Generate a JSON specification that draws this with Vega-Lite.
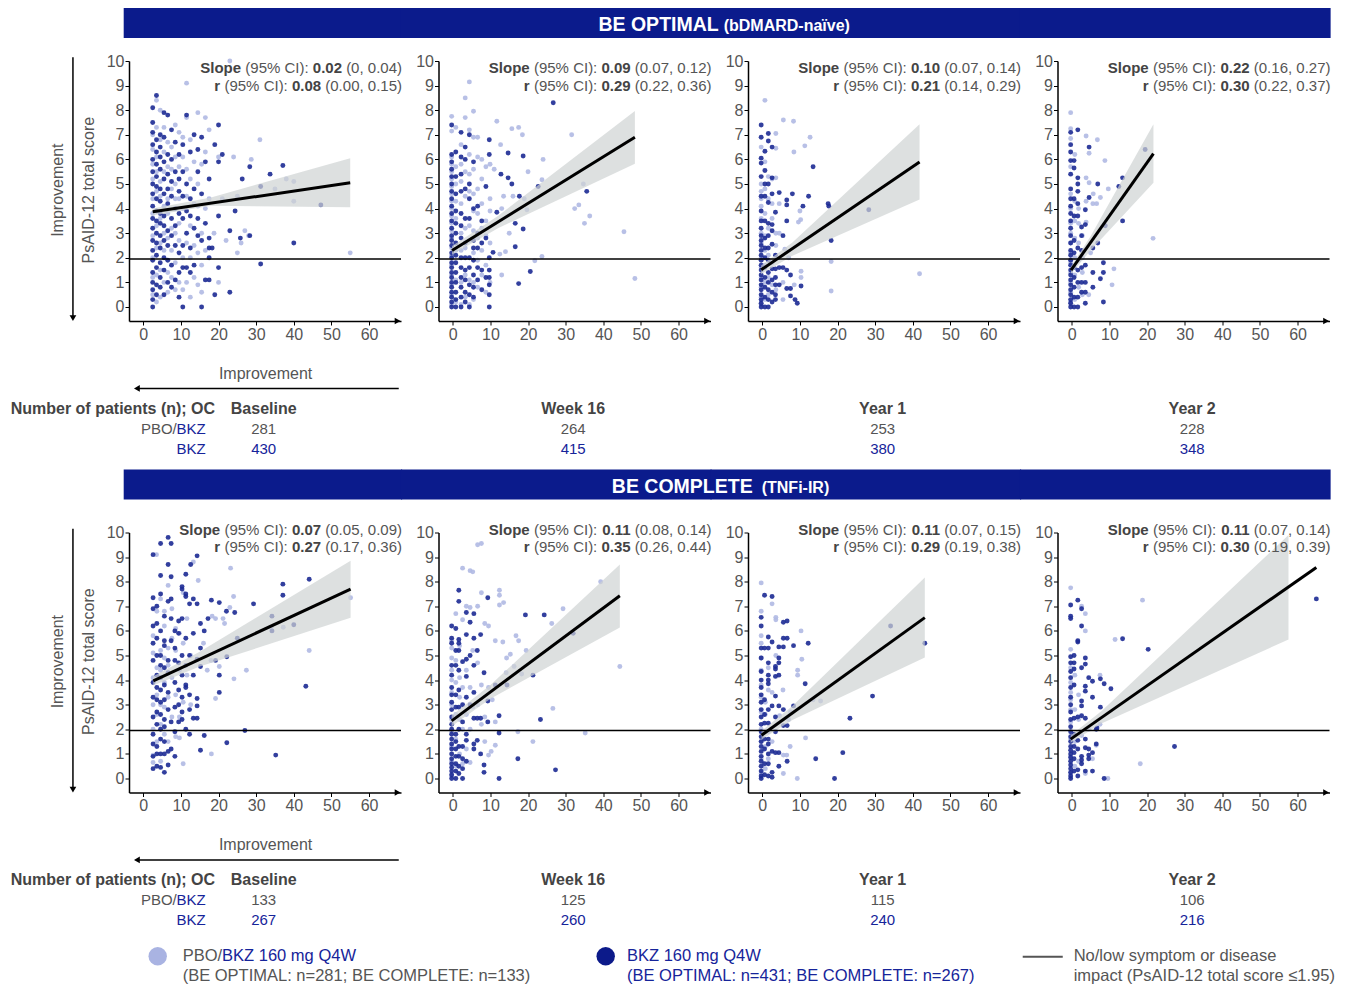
{
"$schema":"https://vega.github.io/schema/vega-lite/v6.json",
"padding":{"left":10,"top":8,"right":0,"bottom":0},
"background":"white",
"config":{"font":"Liberation Sans","view":{"stroke":null},
"header":{"labels":false,"title":null,"labelExpr":"''","labelFontSize":1,"labelPadding":-60,"labelColor":"transparent"},
"headerFacet":{"labels":false,"title":null,"labelExpr":"''","labelFontSize":1,"labelPadding":-60,"labelColor":"transparent"},
"axis":{"domainColor":"black","domainWidth":1.5,"tickColor":"black","tickSize":4,"labelFontSize":16,"labelColor":"#555","labelPadding":1,"labelFlush":false,"labelOverlap":false,"titleFontSize":16,"titleColor":"#555","titleFontWeight":"normal","grid":false}},
"datasets":{
"d":[
{"k":"ln","p":1,"x":2.5,"y":3.87},{"k":"ln","p":1,"x":55,"y":5.05},
{"k":"ln","p":2,"x":-0.2,"y":2.3},{"k":"ln","p":2,"x":48.4,"y":6.9},
{"k":"ln","p":3,"x":-0.3,"y":1.51},{"k":"ln","p":3,"x":41.8,"y":5.89},
{"k":"ln","p":4,"x":-0.2,"y":1.5},{"k":"ln","p":4,"x":21.7,"y":6.23},
{"k":"ln","p":5,"x":2.66,"y":3.97},{"k":"ln","p":5,"x":55.1,"y":7.7},
{"k":"ln","p":6,"x":-0.3,"y":2.34},{"k":"ln","p":6,"x":44.4,"y":7.43},
{"k":"ln","p":7,"x":-0.2,"y":1.76},{"k":"ln","p":7,"x":43.2,"y":6.54},
{"k":"ln","p":8,"x":-0.3,"y":1.6},{"k":"ln","p":8,"x":65,"y":8.58},
{"k":"bd","p":1,"x":2.5,"lo":3.72,"hi":4.0},{"k":"bd","p":1,"x":18,"lo":4.12,"hi":4.45},{"k":"bd","p":1,"x":55,"lo":4.05,"hi":6.05},
{"k":"bd","p":2,"x":-0.2,"lo":2.12,"hi":2.48},{"k":"bd","p":2,"x":12,"lo":3.2,"hi":3.7},{"k":"bd","p":2,"x":48.4,"lo":5.82,"hi":7.97},
{"k":"bd","p":3,"x":-0.3,"lo":1.33,"hi":1.69},{"k":"bd","p":3,"x":8,"lo":2.08,"hi":2.62},{"k":"bd","p":3,"x":41.8,"lo":4.37,"hi":7.43},
{"k":"bd","p":4,"x":-0.2,"lo":1.35,"hi":1.65},{"k":"bd","p":4,"x":5,"lo":2.3,"hi":2.88},{"k":"bd","p":4,"x":21.7,"lo":5.05,"hi":7.43},
{"k":"bd","p":5,"x":2.66,"lo":3.78,"hi":4.16},{"k":"bd","p":5,"x":15,"lo":4.55,"hi":5.15},{"k":"bd","p":5,"x":55.1,"lo":6.53,"hi":8.85},
{"k":"bd","p":6,"x":-0.3,"lo":2.12,"hi":2.56},{"k":"bd","p":6,"x":10,"lo":3.24,"hi":3.8},{"k":"bd","p":6,"x":44.4,"lo":6.14,"hi":8.7},
{"k":"bd","p":7,"x":-0.2,"lo":1.58,"hi":1.94},{"k":"bd","p":7,"x":8,"lo":2.38,"hi":2.95},{"k":"bd","p":7,"x":43.2,"lo":4.92,"hi":8.17},
{"k":"bd","p":8,"x":-0.3,"lo":1.45,"hi":1.75},{"k":"bd","p":8,"x":8,"lo":2.25,"hi":2.75},{"k":"bd","p":8,"x":57.6,"lo":5.65,"hi":9.9},
{"k":"an","p":1,"n1":"0.02","n2":"0.08","ci":["(0, 0.04)","(0.00, 0.15)"]},
{"k":"an","p":2,"nm":["0.09","0.29"],"ci":["(0.07, 0.12)","(0.22, 0.36)"]},
{"k":"an","p":3,"nm":["0.10","0.21"],"ci":["(0.07, 0.14)","(0.14, 0.29)"]},
{"k":"an","p":4,"nm":["0.22","0.30"],"ci":["(0.16, 0.27)","(0.22, 0.37)"]},
{"k":"an","p":5,"nm":["0.07","0.27"],"ci":["(0.05, 0.09)","(0.17, 0.36)"]},
{"k":"an","p":6,"nm":["0.11","0.35"],"ci":["(0.08, 0.14)","(0.26, 0.44)"]},
{"k":"an","p":7,"nm":["0.11","0.29"],"ci":["(0.07, 0.15)","(0.19, 0.38)"]},
{"k":"an","p":8,"nm":["0.11","0.30"],"ci":["(0.07, 0.14)","(0.19, 0.39)"]},
{"k":"tb","p":1,"t":"Baseline","a":281,"b":430},{"k":"tb","p":2,"t":"Week 16","a":264,"b":415},{"k":"tb","p":3,"t":"Year 1","a":253,"b":380},{"k":"tb","p":4,"t":"Year 2","a":228,"b":348},
{"k":"tb","p":5,"t":"Baseline","a":133,"b":267},{"k":"tb","p":6,"t":"Week 16","a":125,"b":260},{"k":"tb","p":7,"t":"Year 1","a":115,"b":240},{"k":"tb","p":8,"t":"Year 2","a":106,"b":216},
{"p":1,"g":"a","x":2.5,"y":0.5},{"p":1,"g":"a","x":2.5,"y":1.2},{"p":1,"g":"a","x":2.5,"y":2},{"p":1,"g":"a","x":2.5,"y":2.9},{"p":1,"g":"a","x":2.5,"y":3.8},{"p":1,"g":"a","x":2.5,"y":4.4},{"p":1,"g":"a","x":2.5,"y":5.2},{"p":1,"g":"a","x":2.5,"y":5.8},{"p":1,"g":"a","x":2.5,"y":6.4},{"p":1,"g":"a","x":2.5,"y":7},
{"p":1,"g":"a","x":3.5,"y":0.2},{"p":1,"g":"a","x":3.5,"y":1.3},{"p":1,"g":"a","x":3.5,"y":2.4},{"p":1,"g":"a","x":3.5,"y":3.3},{"p":1,"g":"a","x":3.5,"y":4.7},{"p":1,"g":"a","x":3.5,"y":5.5},{"p":1,"g":"a","x":3.5,"y":6.1},{"p":1,"g":"a","x":3.5,"y":7.3},{"p":1,"g":"a","x":3.5,"y":8.4},
{"p":1,"g":"a","x":4.5,"y":0.4},{"p":1,"g":"a","x":4.5,"y":1.5},{"p":1,"g":"a","x":4.5,"y":2.6},{"p":1,"g":"a","x":4.5,"y":3.6},{"p":1,"g":"a","x":4.5,"y":4.5},{"p":1,"g":"a","x":4.5,"y":5.1},{"p":1,"g":"a","x":4.5,"y":6.8},{"p":1,"g":"a","x":4.5,"y":8},
{"p":1,"g":"a","x":5.5,"y":1},{"p":1,"g":"a","x":5.5,"y":2.3},{"p":1,"g":"a","x":5.5,"y":3},{"p":1,"g":"a","x":5.5,"y":4.1},{"p":1,"g":"a","x":5.5,"y":5.5},{"p":1,"g":"a","x":5.5,"y":6.3},{"p":1,"g":"a","x":5.5,"y":7.3},
{"p":1,"g":"a","x":6.5,"y":0.6},{"p":1,"g":"a","x":6.5,"y":1.4},{"p":1,"g":"a","x":6.5,"y":2.8},{"p":1,"g":"a","x":6.5,"y":3.8},{"p":1,"g":"a","x":6.5,"y":4.4},{"p":1,"g":"a","x":6.5,"y":5.7},{"p":1,"g":"a","x":6.5,"y":6.7},
{"p":1,"g":"a","x":7.5,"y":1.2},{"p":1,"g":"a","x":7.5,"y":2.3},{"p":1,"g":"a","x":7.5,"y":3.2},{"p":1,"g":"a","x":7.5,"y":4.8},{"p":1,"g":"a","x":7.5,"y":5.6},{"p":1,"g":"a","x":7.5,"y":6.5},
{"p":1,"g":"a","x":8.5,"y":0.7},{"p":1,"g":"a","x":8.5,"y":1.8},{"p":1,"g":"a","x":8.5,"y":3},{"p":1,"g":"a","x":8.5,"y":4.4},{"p":1,"g":"a","x":8.5,"y":5},{"p":1,"g":"a","x":8.5,"y":6.1},{"p":1,"g":"a","x":8.5,"y":7.4},
{"p":1,"g":"a","x":9.5,"y":1},{"p":1,"g":"a","x":9.5,"y":2.7},{"p":1,"g":"a","x":9.5,"y":3.4},{"p":1,"g":"a","x":9.5,"y":4.4},{"p":1,"g":"a","x":9.5,"y":5.7},{"p":1,"g":"a","x":9.5,"y":7.1},
{"p":1,"g":"a","x":10.5,"y":0.7},{"p":1,"g":"a","x":10.5,"y":2},{"p":1,"g":"a","x":10.5,"y":4},{"p":1,"g":"a","x":10.5,"y":6.1},{"p":1,"g":"a","x":10.5,"y":6.9},
{"p":1,"g":"a","x":11.5,"y":1},{"p":1,"g":"a","x":11.5,"y":2.6},{"p":1,"g":"a","x":11.5,"y":4.5},{"p":1,"g":"a","x":11.5,"y":5.6},{"p":1,"g":"a","x":11.5,"y":7.7},{"p":1,"g":"a","x":11.5,"y":9.1},
{"p":1,"g":"a","x":12.5,"y":0.4},{"p":1,"g":"a","x":12.5,"y":2},{"p":1,"g":"a","x":12.5,"y":3.3},{"p":1,"g":"a","x":12.5,"y":5.2},{"p":1,"g":"a","x":12.5,"y":6.8},
{"p":1,"g":"a","x":13.5,"y":1.2},{"p":1,"g":"a","x":13.5,"y":2.5},{"p":1,"g":"a","x":13.5,"y":4.2},{"p":1,"g":"a","x":13.5,"y":5.9},
{"p":1,"g":"a","x":14.5,"y":0.9},{"p":1,"g":"a","x":14.5,"y":2.2},{"p":1,"g":"a","x":14.5,"y":4.1},{"p":1,"g":"a","x":14.5,"y":5},{"p":1,"g":"a","x":14.5,"y":7.9},
{"p":1,"g":"a","x":15.5,"y":0.6},{"p":1,"g":"a","x":15.5,"y":1.7},{"p":1,"g":"a","x":15.5,"y":3},{"p":1,"g":"a","x":15.5,"y":5.8},
{"p":1,"g":"a","x":16.5,"y":2.3},{"p":1,"g":"a","x":16.5,"y":4},{"p":1,"g":"a","x":16.5,"y":6.3},{"p":1,"g":"a","x":16.5,"y":7.7},
{"p":1,"g":"a","x":17.5,"y":7.2},{"p":1,"g":"a","x":17.5,"y":4.4},
{"p":1,"g":"a","x":23,"y":10},{"p":1,"g":"a","x":20,"y":1},{"p":1,"g":"a","x":18.8,"y":3},{"p":1,"g":"a","x":21,"y":4.4},{"p":1,"g":"a","x":22,"y":2.7},{"p":1,"g":"a","x":24,"y":6.1},{"p":1,"g":"a","x":25,"y":4.5},{"p":1,"g":"a","x":25,"y":2.2},{"p":1,"g":"a","x":26,"y":2.6},{"p":1,"g":"a","x":27,"y":3.1},{"p":1,"g":"a","x":28,"y":2.9},{"p":1,"g":"a","x":28.7,"y":6},{"p":1,"g":"a","x":31,"y":6.8},{"p":1,"g":"a","x":38,"y":5.2},{"p":1,"g":"a","x":40,"y":4.3},{"p":1,"g":"a","x":40,"y":5.1},{"p":1,"g":"a","x":55,"y":2.2},{"p":1,"g":"a","x":35,"y":4.8},{"p":1,"g":"a","x":20,"y":6.1},
{"p":1,"g":"b","x":2.5,"y":0},{"p":1,"g":"b","x":2.5,"y":0.3},{"p":1,"g":"b","x":2.5,"y":0.7},{"p":1,"g":"b","x":2.5,"y":1},{"p":1,"g":"b","x":2.5,"y":1.4},{"p":1,"g":"b","x":2.5,"y":1.9},{"p":1,"g":"b","x":2.5,"y":2.3},{"p":1,"g":"b","x":2.5,"y":2.7},{"p":1,"g":"b","x":2.5,"y":3.2},{"p":1,"g":"b","x":2.5,"y":3.6},{"p":1,"g":"b","x":2.5,"y":4.1},{"p":1,"g":"b","x":2.5,"y":4.6},{"p":1,"g":"b","x":2.5,"y":5},{"p":1,"g":"b","x":2.5,"y":5.5},{"p":1,"g":"b","x":2.5,"y":6},{"p":1,"g":"b","x":2.5,"y":6.6},{"p":1,"g":"b","x":2.5,"y":7.1},{"p":1,"g":"b","x":2.5,"y":7.5},{"p":1,"g":"b","x":2.5,"y":8.1},
{"p":1,"g":"b","x":3.5,"y":0.5},{"p":1,"g":"b","x":3.5,"y":0.9},{"p":1,"g":"b","x":3.5,"y":1.6},{"p":1,"g":"b","x":3.5,"y":2.1},{"p":1,"g":"b","x":3.5,"y":2.6},{"p":1,"g":"b","x":3.5,"y":3},{"p":1,"g":"b","x":3.5,"y":3.5},{"p":1,"g":"b","x":3.5,"y":3.9},{"p":1,"g":"b","x":3.5,"y":4.4},{"p":1,"g":"b","x":3.5,"y":4.9},{"p":1,"g":"b","x":3.5,"y":5.3},{"p":1,"g":"b","x":3.5,"y":5.8},{"p":1,"g":"b","x":3.5,"y":6.3},{"p":1,"g":"b","x":3.5,"y":6.8},{"p":1,"g":"b","x":3.5,"y":8.6},
{"p":1,"g":"b","x":4.5,"y":0.8},{"p":1,"g":"b","x":4.5,"y":1.2},{"p":1,"g":"b","x":4.5,"y":1.8},{"p":1,"g":"b","x":4.5,"y":2.4},{"p":1,"g":"b","x":4.5,"y":2.9},{"p":1,"g":"b","x":4.5,"y":3.4},{"p":1,"g":"b","x":4.5,"y":3.8},{"p":1,"g":"b","x":4.5,"y":4.3},{"p":1,"g":"b","x":4.5,"y":4.8},{"p":1,"g":"b","x":4.5,"y":5.6},{"p":1,"g":"b","x":4.5,"y":6.1},{"p":1,"g":"b","x":4.5,"y":6.5},{"p":1,"g":"b","x":4.5,"y":7},
{"p":1,"g":"b","x":5.5,"y":0.5},{"p":1,"g":"b","x":5.5,"y":1.5},{"p":1,"g":"b","x":5.5,"y":2},{"p":1,"g":"b","x":5.5,"y":2.7},{"p":1,"g":"b","x":5.5,"y":3.3},{"p":1,"g":"b","x":5.5,"y":3.7},{"p":1,"g":"b","x":5.5,"y":4.6},{"p":1,"g":"b","x":5.5,"y":5.2},{"p":1,"g":"b","x":5.5,"y":5.9},{"p":1,"g":"b","x":5.5,"y":6.9},{"p":1,"g":"b","x":5.5,"y":7.9},
{"p":1,"g":"b","x":6.5,"y":1},{"p":1,"g":"b","x":6.5,"y":1.9},{"p":1,"g":"b","x":6.5,"y":2.5},{"p":1,"g":"b","x":6.5,"y":3.1},{"p":1,"g":"b","x":6.5,"y":4.2},{"p":1,"g":"b","x":6.5,"y":4.8},{"p":1,"g":"b","x":6.5,"y":5.4},{"p":1,"g":"b","x":6.5,"y":6.2},{"p":1,"g":"b","x":6.5,"y":7.8},
{"p":1,"g":"b","x":7.5,"y":0.8},{"p":1,"g":"b","x":7.5,"y":1.7},{"p":1,"g":"b","x":7.5,"y":2.9},{"p":1,"g":"b","x":7.5,"y":3.6},{"p":1,"g":"b","x":7.5,"y":4.5},{"p":1,"g":"b","x":7.5,"y":5.1},{"p":1,"g":"b","x":7.5,"y":6},{"p":1,"g":"b","x":7.5,"y":7.2},
{"p":1,"g":"b","x":8.5,"y":1.1},{"p":1,"g":"b","x":8.5,"y":2.5},{"p":1,"g":"b","x":8.5,"y":3.3},{"p":1,"g":"b","x":8.5,"y":4},{"p":1,"g":"b","x":8.5,"y":5.5},{"p":1,"g":"b","x":8.5,"y":6.7},
{"p":1,"g":"b","x":9.5,"y":0.4},{"p":1,"g":"b","x":9.5,"y":1.4},{"p":1,"g":"b","x":9.5,"y":2.2},{"p":1,"g":"b","x":9.5,"y":3.8},{"p":1,"g":"b","x":9.5,"y":4.7},{"p":1,"g":"b","x":9.5,"y":5.2},{"p":1,"g":"b","x":9.5,"y":6.2},
{"p":1,"g":"b","x":10.5,"y":0},{"p":1,"g":"b","x":10.5,"y":1.6},{"p":1,"g":"b","x":10.5,"y":2.5},{"p":1,"g":"b","x":10.5,"y":3.6},{"p":1,"g":"b","x":10.5,"y":4.5},{"p":1,"g":"b","x":10.5,"y":5.5},{"p":1,"g":"b","x":10.5,"y":6.6},
{"p":1,"g":"b","x":11.5,"y":1.6},{"p":1,"g":"b","x":11.5,"y":3},{"p":1,"g":"b","x":11.5,"y":3.9},{"p":1,"g":"b","x":11.5,"y":5},{"p":1,"g":"b","x":11.5,"y":7.8},
{"p":1,"g":"b","x":12.5,"y":1.4},{"p":1,"g":"b","x":12.5,"y":2.4},{"p":1,"g":"b","x":12.5,"y":3.7},{"p":1,"g":"b","x":12.5,"y":4.4},{"p":1,"g":"b","x":12.5,"y":6.3},
{"p":1,"g":"b","x":13.5,"y":1.7},{"p":1,"g":"b","x":13.5,"y":3.2},{"p":1,"g":"b","x":13.5,"y":4.8},{"p":1,"g":"b","x":13.5,"y":7},
{"p":1,"g":"b","x":14.5,"y":2.9},{"p":1,"g":"b","x":14.5,"y":3.6},{"p":1,"g":"b","x":14.5,"y":5.5},{"p":1,"g":"b","x":14.5,"y":6.4},
{"p":1,"g":"b","x":15.5,"y":0},{"p":1,"g":"b","x":15.5,"y":2.7},{"p":1,"g":"b","x":15.5,"y":4.6},{"p":1,"g":"b","x":15.5,"y":6.9},
{"p":1,"g":"b","x":16.5,"y":1.1},{"p":1,"g":"b","x":16.5,"y":3.4},{"p":1,"g":"b","x":16.5,"y":5.9},
{"p":1,"g":"b","x":17.5,"y":2},{"p":1,"g":"b","x":17.5,"y":2.4},{"p":1,"g":"b","x":17.5,"y":5.2},{"p":1,"g":"b","x":17.5,"y":2.8},
{"p":1,"g":"b","x":19,"y":6.6},{"p":1,"g":"b","x":20,"y":7.4},{"p":1,"g":"b","x":20,"y":5.9},{"p":1,"g":"b","x":20,"y":3.7},{"p":1,"g":"b","x":20,"y":1.6},{"p":1,"g":"b","x":21,"y":6.2},{"p":1,"g":"b","x":19,"y":0.5},{"p":1,"g":"b","x":23,"y":0.6},{"p":1,"g":"b","x":23,"y":3.1},{"p":1,"g":"b","x":24.4,"y":3.9},{"p":1,"g":"b","x":26.3,"y":5.2},{"p":1,"g":"b","x":28.3,"y":5.7},{"p":1,"g":"b","x":33.7,"y":5.4},{"p":1,"g":"b","x":37.1,"y":5.75},{"p":1,"g":"b","x":47.2,"y":4.15},{"p":1,"g":"b","x":31.2,"y":4.9},{"p":1,"g":"b","x":40,"y":2.6},{"p":1,"g":"b","x":31.2,"y":1.75},{"p":1,"g":"b","x":25.8,"y":2.8},{"p":1,"g":"b","x":18.3,"y":2.4},{"p":1,"g":"b","x":17.5,"y":1.1},{"p":1,"g":"b","x":28.3,"y":2.9},
{"p":2,"g":"a","x":-0.3,"y":0.1},{"p":2,"g":"a","x":-0.3,"y":0.5},{"p":2,"g":"a","x":-0.3,"y":0.9},{"p":2,"g":"a","x":-0.3,"y":1.3},{"p":2,"g":"a","x":-0.3,"y":1.7},{"p":2,"g":"a","x":-0.3,"y":2.1},{"p":2,"g":"a","x":-0.3,"y":2.4},{"p":2,"g":"a","x":-0.3,"y":2.8},{"p":2,"g":"a","x":-0.3,"y":3.1},{"p":2,"g":"a","x":-0.3,"y":3.4},{"p":2,"g":"a","x":-0.3,"y":3.7},{"p":2,"g":"a","x":-0.3,"y":4},{"p":2,"g":"a","x":-0.3,"y":4.3},{"p":2,"g":"a","x":-0.3,"y":4.6},{"p":2,"g":"a","x":-0.3,"y":4.9},{"p":2,"g":"a","x":-0.3,"y":5.2},{"p":2,"g":"a","x":-0.3,"y":5.5},{"p":2,"g":"a","x":-0.3,"y":5.8},{"p":2,"g":"a","x":-0.3,"y":6.1},{"p":2,"g":"a","x":-0.3,"y":7.15},{"p":2,"g":"a","x":-0.3,"y":7.75},
{"p":2,"g":"a","x":0.8,"y":0.2},{"p":2,"g":"a","x":0.8,"y":1.1},{"p":2,"g":"a","x":0.8,"y":2.3},{"p":2,"g":"a","x":0.8,"y":3.6},{"p":2,"g":"a","x":0.8,"y":4.3},{"p":2,"g":"a","x":0.8,"y":5},{"p":2,"g":"a","x":0.8,"y":5.7},{"p":2,"g":"a","x":0.8,"y":7.3},
{"p":2,"g":"a","x":2.2,"y":0.1},{"p":2,"g":"a","x":2.2,"y":1},{"p":2,"g":"a","x":2.2,"y":2.3},{"p":2,"g":"a","x":2.2,"y":3},{"p":2,"g":"a","x":2.2,"y":4.2},{"p":2,"g":"a","x":2.2,"y":5.1},{"p":2,"g":"a","x":2.2,"y":5.8},{"p":2,"g":"a","x":2.2,"y":6.6},
{"p":2,"g":"a","x":3.3,"y":0.4},{"p":2,"g":"a","x":3.3,"y":1.3},{"p":2,"g":"a","x":3.3,"y":2.4},{"p":2,"g":"a","x":3.3,"y":3.2},{"p":2,"g":"a","x":3.3,"y":4.5},{"p":2,"g":"a","x":3.3,"y":5.5},{"p":2,"g":"a","x":3.3,"y":7.7},{"p":2,"g":"a","x":3.3,"y":8.5},
{"p":2,"g":"a","x":4.4,"y":0.1},{"p":2,"g":"a","x":4.4,"y":1.1},{"p":2,"g":"a","x":4.4,"y":2.7},{"p":2,"g":"a","x":4.4,"y":3.3},{"p":2,"g":"a","x":4.4,"y":4.7},{"p":2,"g":"a","x":4.4,"y":5.4},{"p":2,"g":"a","x":4.4,"y":6.2},{"p":2,"g":"a","x":4.4,"y":9.15},{"p":2,"g":"a","x":4.4,"y":7.2},
{"p":2,"g":"a","x":5.5,"y":0.3},{"p":2,"g":"a","x":5.5,"y":1},{"p":2,"g":"a","x":5.5,"y":2.2},{"p":2,"g":"a","x":5.5,"y":3.1},{"p":2,"g":"a","x":5.5,"y":3.9},{"p":2,"g":"a","x":5.5,"y":4.6},{"p":2,"g":"a","x":5.5,"y":5.6},{"p":2,"g":"a","x":5.5,"y":6.9},{"p":2,"g":"a","x":5.5,"y":7.96},
{"p":2,"g":"a","x":6.6,"y":0.8},{"p":2,"g":"a","x":6.6,"y":1.9},{"p":2,"g":"a","x":6.6,"y":2.8},{"p":2,"g":"a","x":6.6,"y":3.8},{"p":2,"g":"a","x":6.6,"y":4.8},{"p":2,"g":"a","x":6.6,"y":6.1},{"p":2,"g":"a","x":6.6,"y":6.9},
{"p":2,"g":"a","x":7.7,"y":1.3},{"p":2,"g":"a","x":7.7,"y":2.3},{"p":2,"g":"a","x":7.7,"y":3.2},{"p":2,"g":"a","x":7.7,"y":4.2},{"p":2,"g":"a","x":7.7,"y":5.2},{"p":2,"g":"a","x":7.7,"y":6},
{"p":2,"g":"a","x":8.8,"y":0.6},{"p":2,"g":"a","x":8.8,"y":1.7},{"p":2,"g":"a","x":8.8,"y":2.9},{"p":2,"g":"a","x":8.8,"y":3.5},{"p":2,"g":"a","x":8.8,"y":5.7},
{"p":2,"g":"a","x":9.9,"y":1},{"p":2,"g":"a","x":9.9,"y":2.6},{"p":2,"g":"a","x":9.9,"y":3.9},{"p":2,"g":"a","x":9.9,"y":4.4},{"p":2,"g":"a","x":9.9,"y":5.8},
{"p":2,"g":"a","x":11.7,"y":7.55},{"p":2,"g":"a","x":15.7,"y":7.25},{"p":2,"g":"a","x":17.5,"y":7.3},{"p":2,"g":"a","x":18.5,"y":7},{"p":2,"g":"a","x":31.6,"y":7},{"p":2,"g":"a","x":12.7,"y":6.6},{"p":2,"g":"a","x":24,"y":6},{"p":2,"g":"a","x":20,"y":5.5},{"p":2,"g":"a","x":23.7,"y":5.17},{"p":2,"g":"a","x":34.7,"y":5},{"p":2,"g":"a","x":33.5,"y":4.15},{"p":2,"g":"a","x":32.4,"y":4},{"p":2,"g":"a","x":36.4,"y":3.7},{"p":2,"g":"a","x":35,"y":3.4},{"p":2,"g":"a","x":45.5,"y":3.06},{"p":2,"g":"a","x":48.4,"y":1.16},{"p":2,"g":"a","x":21.8,"y":1.88},{"p":2,"g":"a","x":23.7,"y":2.05},{"p":2,"g":"a","x":12.5,"y":2.15},{"p":2,"g":"a","x":19.7,"y":3.95},{"p":2,"g":"a","x":13.5,"y":4.5},{"p":2,"g":"a","x":14,"y":2.25},{"p":2,"g":"a","x":11,"y":5.6},{"p":2,"g":"a","x":13,"y":4},{"p":2,"g":"a","x":16,"y":4.5},{"p":2,"g":"a","x":19,"y":4.4},{"p":2,"g":"a","x":13,"y":1.3},{"p":2,"g":"a","x":15,"y":3},
{"p":2,"g":"b","x":-0.3,"y":0},{"p":2,"g":"b","x":-0.3,"y":0.2},{"p":2,"g":"b","x":-0.3,"y":0.4},{"p":2,"g":"b","x":-0.3,"y":0.6},{"p":2,"g":"b","x":-0.3,"y":0.8},{"p":2,"g":"b","x":-0.3,"y":1},{"p":2,"g":"b","x":-0.3,"y":1.2},{"p":2,"g":"b","x":-0.3,"y":1.4},{"p":2,"g":"b","x":-0.3,"y":1.6},{"p":2,"g":"b","x":-0.3,"y":1.8},{"p":2,"g":"b","x":-0.3,"y":2},{"p":2,"g":"b","x":-0.3,"y":2.2},{"p":2,"g":"b","x":-0.3,"y":2.5},{"p":2,"g":"b","x":-0.3,"y":2.7},{"p":2,"g":"b","x":-0.3,"y":2.9},{"p":2,"g":"b","x":-0.3,"y":3.2},{"p":2,"g":"b","x":-0.3,"y":3.5},{"p":2,"g":"b","x":-0.3,"y":3.8},{"p":2,"g":"b","x":-0.3,"y":4.1},{"p":2,"g":"b","x":-0.3,"y":4.4},{"p":2,"g":"b","x":-0.3,"y":4.7},{"p":2,"g":"b","x":-0.3,"y":5},{"p":2,"g":"b","x":-0.3,"y":5.3},{"p":2,"g":"b","x":-0.3,"y":5.6},{"p":2,"g":"b","x":-0.3,"y":5.9},{"p":2,"g":"b","x":-0.3,"y":6.2},{"p":2,"g":"b","x":-0.3,"y":7.4},
{"p":2,"g":"b","x":0.8,"y":0},{"p":2,"g":"b","x":0.8,"y":0.3},{"p":2,"g":"b","x":0.8,"y":0.6},{"p":2,"g":"b","x":0.8,"y":1},{"p":2,"g":"b","x":0.8,"y":1.4},{"p":2,"g":"b","x":0.8,"y":1.8},{"p":2,"g":"b","x":0.8,"y":2.1},{"p":2,"g":"b","x":0.8,"y":2.6},{"p":2,"g":"b","x":0.8,"y":3},{"p":2,"g":"b","x":0.8,"y":3.4},{"p":2,"g":"b","x":0.8,"y":3.9},{"p":2,"g":"b","x":0.8,"y":4.6},{"p":2,"g":"b","x":0.8,"y":5.3},{"p":2,"g":"b","x":0.8,"y":6.3},
{"p":2,"g":"b","x":2.2,"y":0},{"p":2,"g":"b","x":2.2,"y":0.4},{"p":2,"g":"b","x":2.2,"y":0.8},{"p":2,"g":"b","x":2.2,"y":1.2},{"p":2,"g":"b","x":2.2,"y":1.6},{"p":2,"g":"b","x":2.2,"y":2},{"p":2,"g":"b","x":2.2,"y":2.8},{"p":2,"g":"b","x":2.2,"y":3.3},{"p":2,"g":"b","x":2.2,"y":3.8},{"p":2,"g":"b","x":2.2,"y":4.7},{"p":2,"g":"b","x":2.2,"y":5.4},{"p":2,"g":"b","x":2.2,"y":6.1},{"p":2,"g":"b","x":2.2,"y":7.1},
{"p":2,"g":"b","x":3.3,"y":0.2},{"p":2,"g":"b","x":3.3,"y":0.6},{"p":2,"g":"b","x":3.3,"y":1.1},{"p":2,"g":"b","x":3.3,"y":1.5},{"p":2,"g":"b","x":3.3,"y":2},{"p":2,"g":"b","x":3.3,"y":2.6},{"p":2,"g":"b","x":3.3,"y":3.6},{"p":2,"g":"b","x":3.3,"y":4.8},{"p":2,"g":"b","x":3.3,"y":6},{"p":2,"g":"b","x":3.3,"y":6.5},
{"p":2,"g":"b","x":4.4,"y":0},{"p":2,"g":"b","x":4.4,"y":0.5},{"p":2,"g":"b","x":4.4,"y":0.9},{"p":2,"g":"b","x":4.4,"y":1.6},{"p":2,"g":"b","x":4.4,"y":2},{"p":2,"g":"b","x":4.4,"y":3.6},{"p":2,"g":"b","x":4.4,"y":4.4},{"p":2,"g":"b","x":4.4,"y":5},{"p":2,"g":"b","x":4.4,"y":7},
{"p":2,"g":"b","x":5.5,"y":0.4},{"p":2,"g":"b","x":5.5,"y":0.8},{"p":2,"g":"b","x":5.5,"y":1.3},{"p":2,"g":"b","x":5.5,"y":1.9},{"p":2,"g":"b","x":5.5,"y":2.4},{"p":2,"g":"b","x":5.5,"y":2.7},{"p":2,"g":"b","x":5.5,"y":4},{"p":2,"g":"b","x":5.5,"y":5.9},
{"p":2,"g":"b","x":6.6,"y":1.1},{"p":2,"g":"b","x":6.6,"y":1.6},{"p":2,"g":"b","x":6.6,"y":2.4},{"p":2,"g":"b","x":6.6,"y":3},{"p":2,"g":"b","x":6.6,"y":4.1},
{"p":2,"g":"b","x":7.7,"y":0.7},{"p":2,"g":"b","x":7.7,"y":1.5},{"p":2,"g":"b","x":7.7,"y":2.6},{"p":2,"g":"b","x":7.7,"y":3.5},
{"p":2,"g":"b","x":8.8,"y":1.2},{"p":2,"g":"b","x":8.8,"y":2.8},{"p":2,"g":"b","x":8.8,"y":4.9},
{"p":2,"g":"b","x":9.7,"y":0},{"p":2,"g":"b","x":9.7,"y":0.5},{"p":2,"g":"b","x":9.7,"y":0.9},{"p":2,"g":"b","x":9.7,"y":1.2},{"p":2,"g":"b","x":9.7,"y":1.5},{"p":2,"g":"b","x":9.7,"y":2},{"p":2,"g":"b","x":9.7,"y":6.8},{"p":2,"g":"b","x":9.7,"y":6.2},
{"p":2,"g":"b","x":26.7,"y":8.3},{"p":2,"g":"b","x":14.7,"y":6.26},{"p":2,"g":"b","x":18.7,"y":6.14},{"p":2,"g":"b","x":12.8,"y":5.4},{"p":2,"g":"b","x":14.7,"y":5.25},{"p":2,"g":"b","x":15.7,"y":5},{"p":2,"g":"b","x":22.7,"y":4.9},{"p":2,"g":"b","x":35.6,"y":4.7},{"p":2,"g":"b","x":17.7,"y":4.5},{"p":2,"g":"b","x":11.7,"y":3.85},{"p":2,"g":"b","x":16.6,"y":3.4},{"p":2,"g":"b","x":18.7,"y":3.17},{"p":2,"g":"b","x":16.6,"y":2.45},{"p":2,"g":"b","x":10.7,"y":2.22},{"p":2,"g":"b","x":20.6,"y":1.44},{"p":2,"g":"b","x":17.5,"y":0.95},
{"p":3,"g":"a","x":-0.3,"y":0.1},{"p":3,"g":"a","x":-0.3,"y":0.4},{"p":3,"g":"a","x":-0.3,"y":0.8},{"p":3,"g":"a","x":-0.3,"y":1.2},{"p":3,"g":"a","x":-0.3,"y":1.6},{"p":3,"g":"a","x":-0.3,"y":2},{"p":3,"g":"a","x":-0.3,"y":2.6},{"p":3,"g":"a","x":-0.3,"y":3},{"p":3,"g":"a","x":-0.3,"y":3.6},{"p":3,"g":"a","x":-0.3,"y":4.1},{"p":3,"g":"a","x":-0.3,"y":4.4},{"p":3,"g":"a","x":-0.3,"y":4.7},{"p":3,"g":"a","x":-0.3,"y":5},{"p":3,"g":"a","x":-0.3,"y":6.5},
{"p":3,"g":"a","x":0.7,"y":0.3},{"p":3,"g":"a","x":0.7,"y":1},{"p":3,"g":"a","x":0.7,"y":1.7},{"p":3,"g":"a","x":0.7,"y":2.3},{"p":3,"g":"a","x":0.7,"y":2.9},{"p":3,"g":"a","x":0.7,"y":3.8},{"p":3,"g":"a","x":0.7,"y":4.8},{"p":3,"g":"a","x":0.7,"y":5.9},{"p":3,"g":"a","x":0.7,"y":8.4},
{"p":3,"g":"a","x":1.6,"y":0.5},{"p":3,"g":"a","x":1.6,"y":1.2},{"p":3,"g":"a","x":1.6,"y":2.1},{"p":3,"g":"a","x":1.6,"y":3.2},{"p":3,"g":"a","x":1.6,"y":4.4},{"p":3,"g":"a","x":1.6,"y":5.3},
{"p":3,"g":"a","x":2.6,"y":0.9},{"p":3,"g":"a","x":2.6,"y":1.8},{"p":3,"g":"a","x":2.6,"y":3.6},{"p":3,"g":"a","x":2.6,"y":4.2},{"p":3,"g":"a","x":2.6,"y":5.2},
{"p":3,"g":"a","x":3.6,"y":0.7},{"p":3,"g":"a","x":3.6,"y":2.5},{"p":3,"g":"a","x":3.6,"y":3},{"p":3,"g":"a","x":3.6,"y":5.25},{"p":3,"g":"a","x":3.6,"y":6.45},{"p":3,"g":"a","x":3.6,"y":7.05},
{"p":3,"g":"a","x":5.6,"y":7.6},{"p":3,"g":"a","x":8.3,"y":7.55},{"p":3,"g":"a","x":12.7,"y":6.9},{"p":3,"g":"a","x":11.3,"y":6.55},{"p":3,"g":"a","x":8.4,"y":6.3},{"p":3,"g":"a","x":10,"y":3.9},{"p":3,"g":"a","x":10.2,"y":3.55},{"p":3,"g":"a","x":9.6,"y":3.45},{"p":3,"g":"a","x":4.5,"y":3},{"p":3,"g":"a","x":18.3,"y":1.85},{"p":3,"g":"a","x":18.3,"y":0.65},{"p":3,"g":"a","x":41.8,"y":1.35},{"p":3,"g":"a","x":10.3,"y":1.45},{"p":3,"g":"a","x":10.3,"y":1.2},{"p":3,"g":"a","x":8.5,"y":0.9},{"p":3,"g":"a","x":5.5,"y":0.3},{"p":3,"g":"a","x":6,"y":2.35},{"p":3,"g":"a","x":4.5,"y":4.2},{"p":3,"g":"a","x":5.5,"y":1},{"p":3,"g":"a","x":7,"y":2},
{"p":3,"g":"b","x":-0.3,"y":0},{"p":3,"g":"b","x":-0.3,"y":0.15},{"p":3,"g":"b","x":-0.3,"y":0.3},{"p":3,"g":"b","x":-0.3,"y":0.5},{"p":3,"g":"b","x":-0.3,"y":0.7},{"p":3,"g":"b","x":-0.3,"y":0.9},{"p":3,"g":"b","x":-0.3,"y":1.1},{"p":3,"g":"b","x":-0.3,"y":1.3},{"p":3,"g":"b","x":-0.3,"y":1.5},{"p":3,"g":"b","x":-0.3,"y":1.7},{"p":3,"g":"b","x":-0.3,"y":1.9},{"p":3,"g":"b","x":-0.3,"y":2.1},{"p":3,"g":"b","x":-0.3,"y":2.3},{"p":3,"g":"b","x":-0.3,"y":2.5},{"p":3,"g":"b","x":-0.3,"y":2.7},{"p":3,"g":"b","x":-0.3,"y":2.9},{"p":3,"g":"b","x":-0.3,"y":3.2},{"p":3,"g":"b","x":-0.3,"y":3.5},{"p":3,"g":"b","x":-0.3,"y":3.9},{"p":3,"g":"b","x":-0.3,"y":4.5},{"p":3,"g":"b","x":-0.3,"y":5.3},{"p":3,"g":"b","x":-0.3,"y":5.85},{"p":3,"g":"b","x":-0.3,"y":6.05},{"p":3,"g":"b","x":-0.3,"y":6.9},{"p":3,"g":"b","x":-0.3,"y":7.4},
{"p":3,"g":"b","x":0.7,"y":0},{"p":3,"g":"b","x":0.7,"y":0.4},{"p":3,"g":"b","x":0.7,"y":0.8},{"p":3,"g":"b","x":0.7,"y":1.2},{"p":3,"g":"b","x":0.7,"y":1.6},{"p":3,"g":"b","x":0.7,"y":2},{"p":3,"g":"b","x":0.7,"y":2.4},{"p":3,"g":"b","x":0.7,"y":2.8},{"p":3,"g":"b","x":0.7,"y":3.5},{"p":3,"g":"b","x":0.7,"y":4.5},{"p":3,"g":"b","x":0.7,"y":5},{"p":3,"g":"b","x":0.7,"y":5.55},{"p":3,"g":"b","x":0.7,"y":6.33},
{"p":3,"g":"b","x":1.6,"y":0},{"p":3,"g":"b","x":1.6,"y":0.3},{"p":3,"g":"b","x":1.6,"y":0.7},{"p":3,"g":"b","x":1.6,"y":1},{"p":3,"g":"b","x":1.6,"y":1.4},{"p":3,"g":"b","x":1.6,"y":1.9},{"p":3,"g":"b","x":1.6,"y":2.4},{"p":3,"g":"b","x":1.6,"y":2.9},{"p":3,"g":"b","x":1.6,"y":3.4},{"p":3,"g":"b","x":1.6,"y":4.25},{"p":3,"g":"b","x":1.6,"y":5},{"p":3,"g":"b","x":1.6,"y":6.75},{"p":3,"g":"b","x":1.6,"y":7.05},
{"p":3,"g":"b","x":2.6,"y":0.2},{"p":3,"g":"b","x":2.6,"y":0.6},{"p":3,"g":"b","x":2.6,"y":1.1},{"p":3,"g":"b","x":2.6,"y":1.55},{"p":3,"g":"b","x":2.6,"y":2.55},{"p":3,"g":"b","x":2.6,"y":3.1},{"p":3,"g":"b","x":2.6,"y":3.35},{"p":3,"g":"b","x":2.6,"y":4.6},{"p":3,"g":"b","x":2.6,"y":5.25},{"p":3,"g":"b","x":2.6,"y":6.5},
{"p":3,"g":"b","x":3.5,"y":0.3},{"p":3,"g":"b","x":3.5,"y":0.5},{"p":3,"g":"b","x":3.5,"y":0.9},{"p":3,"g":"b","x":3.5,"y":1.2},{"p":3,"g":"b","x":3.5,"y":1.55},{"p":3,"g":"b","x":3.5,"y":2.1},{"p":3,"g":"b","x":3.5,"y":3.85},
{"p":3,"g":"b","x":4.5,"y":0.9},{"p":3,"g":"b","x":4.5,"y":1.6},{"p":3,"g":"b","x":4.5,"y":4.65},{"p":3,"g":"b","x":5.5,"y":1.6},{"p":3,"g":"b","x":5.5,"y":2.9},
{"p":3,"g":"b","x":6.5,"y":0.75},{"p":3,"g":"b","x":6.5,"y":1.5},{"p":3,"g":"b","x":6.5,"y":3.5},{"p":3,"g":"b","x":6.5,"y":4.15},{"p":3,"g":"b","x":6.5,"y":4.35},
{"p":3,"g":"b","x":7.5,"y":0.45},{"p":3,"g":"b","x":7.5,"y":0.75},{"p":3,"g":"b","x":7.5,"y":1.3},{"p":3,"g":"b","x":8,"y":4.6},{"p":3,"g":"b","x":8.7,"y":0.3},{"p":3,"g":"b","x":9.3,"y":0.15},{"p":3,"g":"b","x":10.3,"y":0.85},{"p":3,"g":"b","x":10.8,"y":4.1},{"p":3,"g":"b","x":12.3,"y":4.5},{"p":3,"g":"b","x":13.5,"y":5.7},{"p":3,"g":"b","x":17.5,"y":4.2},{"p":3,"g":"b","x":17.7,"y":4.1},{"p":3,"g":"b","x":18.3,"y":2.7},{"p":3,"g":"b","x":28.3,"y":3.95},
{"p":4,"g":"a","x":-0.3,"y":0.2},{"p":4,"g":"a","x":-0.3,"y":0.6},{"p":4,"g":"a","x":-0.3,"y":1},{"p":4,"g":"a","x":-0.3,"y":1.4},{"p":4,"g":"a","x":-0.3,"y":1.8},{"p":4,"g":"a","x":-0.3,"y":2.2},{"p":4,"g":"a","x":-0.3,"y":2.6},{"p":4,"g":"a","x":-0.3,"y":3},{"p":4,"g":"a","x":-0.3,"y":3.4},{"p":4,"g":"a","x":-0.3,"y":4},{"p":4,"g":"a","x":-0.3,"y":4.6},{"p":4,"g":"a","x":-0.3,"y":5.7},{"p":4,"g":"a","x":-0.3,"y":6.85},{"p":4,"g":"a","x":-0.3,"y":7.25},{"p":4,"g":"a","x":-0.3,"y":7.9},
{"p":4,"g":"a","x":0.8,"y":0.3},{"p":4,"g":"a","x":0.8,"y":1.3},{"p":4,"g":"a","x":0.8,"y":2},{"p":4,"g":"a","x":0.8,"y":2.8},{"p":4,"g":"a","x":0.8,"y":3.5},{"p":4,"g":"a","x":0.8,"y":4.3},{"p":4,"g":"a","x":0.8,"y":6.2},
{"p":4,"g":"a","x":1.8,"y":0.8},{"p":4,"g":"a","x":1.8,"y":1.9},{"p":4,"g":"a","x":1.8,"y":2.6},{"p":4,"g":"a","x":1.8,"y":3.4},{"p":4,"g":"a","x":1.8,"y":4},
{"p":4,"g":"a","x":2.8,"y":0.5},{"p":4,"g":"a","x":2.8,"y":1.4},{"p":4,"g":"a","x":2.8,"y":2},{"p":4,"g":"a","x":2.8,"y":2.9},
{"p":4,"g":"a","x":3.8,"y":4.3},{"p":4,"g":"a","x":3.8,"y":5.25},{"p":4,"g":"a","x":3.8,"y":6.95},{"p":4,"g":"a","x":3.8,"y":3.45},
{"p":4,"g":"a","x":6.8,"y":6.8},{"p":4,"g":"a","x":4.6,"y":6.25},{"p":4,"g":"a","x":8.8,"y":5.95},{"p":4,"g":"a","x":4.6,"y":5.05},{"p":4,"g":"a","x":5.7,"y":4.6},{"p":4,"g":"a","x":9.7,"y":4.8},{"p":4,"g":"a","x":7.6,"y":4.45},{"p":4,"g":"a","x":5.6,"y":4.2},{"p":4,"g":"a","x":6.6,"y":4.2},{"p":4,"g":"a","x":21.6,"y":2.79},{"p":4,"g":"a","x":11.2,"y":1.55},{"p":4,"g":"a","x":10.7,"y":0.9},{"p":4,"g":"a","x":4.5,"y":0.5},{"p":4,"g":"a","x":5,"y":2.2},
{"p":4,"g":"b","x":-0.3,"y":0},{"p":4,"g":"b","x":-0.3,"y":0.15},{"p":4,"g":"b","x":-0.3,"y":0.3},{"p":4,"g":"b","x":-0.3,"y":0.5},{"p":4,"g":"b","x":-0.3,"y":0.7},{"p":4,"g":"b","x":-0.3,"y":0.9},{"p":4,"g":"b","x":-0.3,"y":1.1},{"p":4,"g":"b","x":-0.3,"y":1.3},{"p":4,"g":"b","x":-0.3,"y":1.5},{"p":4,"g":"b","x":-0.3,"y":1.7},{"p":4,"g":"b","x":-0.3,"y":1.9},{"p":4,"g":"b","x":-0.3,"y":2.1},{"p":4,"g":"b","x":-0.3,"y":2.3},{"p":4,"g":"b","x":-0.3,"y":2.6},{"p":4,"g":"b","x":-0.3,"y":2.9},{"p":4,"g":"b","x":-0.3,"y":3.2},{"p":4,"g":"b","x":-0.3,"y":3.5},{"p":4,"g":"b","x":-0.3,"y":3.8},{"p":4,"g":"b","x":-0.3,"y":4.1},{"p":4,"g":"b","x":-0.3,"y":4.4},{"p":4,"g":"b","x":-0.3,"y":4.8},{"p":4,"g":"b","x":-0.3,"y":5.4},{"p":4,"g":"b","x":-0.3,"y":5.95},{"p":4,"g":"b","x":-0.3,"y":6.3},{"p":4,"g":"b","x":-0.3,"y":6.6},{"p":4,"g":"b","x":-0.3,"y":7.1},
{"p":4,"g":"b","x":0.6,"y":0},{"p":4,"g":"b","x":0.6,"y":0.4},{"p":4,"g":"b","x":0.6,"y":0.8},{"p":4,"g":"b","x":0.6,"y":1.2},{"p":4,"g":"b","x":0.6,"y":1.6},{"p":4,"g":"b","x":0.6,"y":2.2},{"p":4,"g":"b","x":0.6,"y":2.7},{"p":4,"g":"b","x":0.6,"y":3.7},{"p":4,"g":"b","x":0.6,"y":4.4},{"p":4,"g":"b","x":0.6,"y":5.65},{"p":4,"g":"b","x":0.6,"y":5.95},
{"p":4,"g":"b","x":1.6,"y":0},{"p":4,"g":"b","x":1.6,"y":0.4},{"p":4,"g":"b","x":1.6,"y":1},{"p":4,"g":"b","x":1.6,"y":1.5},{"p":4,"g":"b","x":1.6,"y":2.4},{"p":4,"g":"b","x":1.6,"y":3.7},{"p":4,"g":"b","x":1.6,"y":4.2},{"p":4,"g":"b","x":1.6,"y":4.7},{"p":4,"g":"b","x":1.6,"y":5},{"p":4,"g":"b","x":1.6,"y":5.25},{"p":4,"g":"b","x":1.6,"y":7.2},
{"p":4,"g":"b","x":2.6,"y":0.6},{"p":4,"g":"b","x":2.6,"y":1},{"p":4,"g":"b","x":2.6,"y":1.6},{"p":4,"g":"b","x":2.6,"y":2.3},{"p":4,"g":"b","x":2.6,"y":2.9},{"p":4,"g":"b","x":2.6,"y":3.25},
{"p":4,"g":"b","x":3.6,"y":0.15},{"p":4,"g":"b","x":3.6,"y":0.6},{"p":4,"g":"b","x":3.6,"y":1},{"p":4,"g":"b","x":3.6,"y":1.7},{"p":4,"g":"b","x":3.6,"y":3.35},{"p":4,"g":"b","x":3.6,"y":3.95},
{"p":4,"g":"b","x":4.6,"y":4.45},{"p":4,"g":"b","x":4.6,"y":6.5},{"p":4,"g":"b","x":5.6,"y":0.8},{"p":4,"g":"b","x":5.6,"y":1.4},{"p":4,"g":"b","x":5.6,"y":2.4},{"p":4,"g":"b","x":6.9,"y":2.6},{"p":4,"g":"b","x":6.9,"y":5},{"p":4,"g":"b","x":7.6,"y":1.15},{"p":4,"g":"b","x":8.4,"y":0.2},{"p":4,"g":"b","x":8.4,"y":1.4},{"p":4,"g":"b","x":8.4,"y":1.8},{"p":4,"g":"b","x":8.9,"y":3.3},{"p":4,"g":"b","x":12.5,"y":4.9},{"p":4,"g":"b","x":13.5,"y":5.25},{"p":4,"g":"b","x":13.5,"y":3.5},{"p":4,"g":"b","x":19.5,"y":6.4},
{"p":5,"g":"a","x":2.6,"y":0.65},{"p":5,"g":"a","x":2.6,"y":0.95},{"p":5,"g":"a","x":2.6,"y":2},{"p":5,"g":"a","x":2.6,"y":3},{"p":5,"g":"a","x":2.6,"y":4.1},{"p":5,"g":"a","x":2.6,"y":5.1},{"p":5,"g":"a","x":2.6,"y":5.8},{"p":5,"g":"a","x":3.5,"y":9.1},
{"p":5,"g":"a","x":3.6,"y":1.5},{"p":5,"g":"a","x":3.6,"y":2.6},{"p":5,"g":"a","x":3.6,"y":3.4},{"p":5,"g":"a","x":3.6,"y":4.5},{"p":5,"g":"a","x":3.6,"y":6.8},
{"p":5,"g":"a","x":4.6,"y":0.7},{"p":5,"g":"a","x":4.6,"y":2.2},{"p":5,"g":"a","x":4.6,"y":3},{"p":5,"g":"a","x":4.6,"y":4.4},{"p":5,"g":"a","x":4.6,"y":5.2},{"p":5,"g":"a","x":4.6,"y":7.3},
{"p":5,"g":"a","x":5.6,"y":1.8},{"p":5,"g":"a","x":5.6,"y":2.9},{"p":5,"g":"a","x":5.6,"y":3.9},{"p":5,"g":"a","x":5.6,"y":4.9},{"p":5,"g":"a","x":5.6,"y":6.2},{"p":5,"g":"a","x":5.6,"y":6.8},
{"p":5,"g":"a","x":6.6,"y":1.5},{"p":5,"g":"a","x":6.6,"y":3.3},{"p":5,"g":"a","x":6.6,"y":4.6},{"p":5,"g":"a","x":6.6,"y":5.3},{"p":5,"g":"a","x":6.6,"y":7.85},
{"p":5,"g":"a","x":7.6,"y":2.5},{"p":5,"g":"a","x":7.6,"y":4.1},{"p":5,"g":"a","x":7.6,"y":5.7},{"p":5,"g":"a","x":7.6,"y":6.9},
{"p":5,"g":"a","x":8.6,"y":1.7},{"p":5,"g":"a","x":8.6,"y":3.4},{"p":5,"g":"a","x":8.6,"y":5.2},{"p":5,"g":"a","x":8.6,"y":6.1},
{"p":5,"g":"a","x":9.6,"y":1.65},{"p":5,"g":"a","x":9.6,"y":2.5},{"p":5,"g":"a","x":9.6,"y":4.4},{"p":5,"g":"a","x":9.6,"y":5.9},
{"p":5,"g":"a","x":10.6,"y":0.6},{"p":5,"g":"a","x":10.6,"y":3.1},{"p":5,"g":"a","x":10.6,"y":5.5},{"p":5,"g":"a","x":10.6,"y":7.55},
{"p":5,"g":"a","x":11.6,"y":4.2},{"p":5,"g":"a","x":11.6,"y":6.5},{"p":5,"g":"a","x":12.6,"y":3},{"p":5,"g":"a","x":12.6,"y":5},{"p":5,"g":"a","x":13.3,"y":8.8},
{"p":5,"g":"a","x":14.6,"y":8.05},{"p":5,"g":"a","x":23.2,"y":8.55},{"p":5,"g":"a","x":24,"y":7.4},{"p":5,"g":"a","x":23,"y":6.95},{"p":5,"g":"a","x":18.3,"y":6.6},{"p":5,"g":"a","x":19.2,"y":6.5},{"p":5,"g":"a","x":21.2,"y":6.5},{"p":5,"g":"a","x":21.6,"y":6.3},{"p":5,"g":"a","x":25.2,"y":5.6},{"p":5,"g":"a","x":34,"y":6.15},{"p":5,"g":"a","x":37.2,"y":6.15},{"p":5,"g":"a","x":55.1,"y":7.35},{"p":5,"g":"a","x":44.1,"y":5.2},{"p":5,"g":"a","x":27.4,"y":4.4},{"p":5,"g":"a","x":24.1,"y":4.05},{"p":5,"g":"a","x":19.2,"y":3.25},{"p":5,"g":"a","x":18.1,"y":1},{"p":5,"g":"a","x":20.2,"y":4.55},{"p":5,"g":"a","x":16,"y":5.5},{"p":5,"g":"a","x":17,"y":4.4},{"p":5,"g":"a","x":18,"y":4.8},
{"p":5,"g":"b","x":2.6,"y":0.4},{"p":5,"g":"b","x":2.6,"y":0.9},{"p":5,"g":"b","x":2.6,"y":1.4},{"p":5,"g":"b","x":2.6,"y":1.8},{"p":5,"g":"b","x":2.6,"y":2.5},{"p":5,"g":"b","x":2.6,"y":3.3},{"p":5,"g":"b","x":2.6,"y":3.9},{"p":5,"g":"b","x":2.6,"y":4.8},{"p":5,"g":"b","x":2.6,"y":5.5},{"p":5,"g":"b","x":2.6,"y":6.2},{"p":5,"g":"b","x":2.6,"y":6.9},{"p":5,"g":"b","x":2.6,"y":7.35},{"p":5,"g":"b","x":2.6,"y":9.1},
{"p":5,"g":"b","x":3.6,"y":0.5},{"p":5,"g":"b","x":3.6,"y":1},{"p":5,"g":"b","x":3.6,"y":1.3},{"p":5,"g":"b","x":3.6,"y":2.2},{"p":5,"g":"b","x":3.6,"y":2.7},{"p":5,"g":"b","x":3.6,"y":3.2},{"p":5,"g":"b","x":3.6,"y":3.7},{"p":5,"g":"b","x":3.6,"y":4.2},{"p":5,"g":"b","x":3.6,"y":5},{"p":5,"g":"b","x":3.6,"y":5.7},{"p":5,"g":"b","x":3.6,"y":6.3},{"p":5,"g":"b","x":3.6,"y":7},
{"p":5,"g":"b","x":4.6,"y":0.45},{"p":5,"g":"b","x":4.6,"y":1},{"p":5,"g":"b","x":4.6,"y":1.6},{"p":5,"g":"b","x":4.6,"y":2},{"p":5,"g":"b","x":4.6,"y":2.6},{"p":5,"g":"b","x":4.6,"y":3.1},{"p":5,"g":"b","x":4.6,"y":3.6},{"p":5,"g":"b","x":4.6,"y":4.1},{"p":5,"g":"b","x":4.6,"y":4.6},{"p":5,"g":"b","x":4.6,"y":5},{"p":5,"g":"b","x":4.6,"y":6},{"p":5,"g":"b","x":4.6,"y":7.5},{"p":5,"g":"b","x":4.6,"y":8.25},{"p":5,"g":"b","x":4.6,"y":9.55},
{"p":5,"g":"b","x":5.6,"y":0.25},{"p":5,"g":"b","x":5.6,"y":1},{"p":5,"g":"b","x":5.6,"y":1.5},{"p":5,"g":"b","x":5.6,"y":2.1},{"p":5,"g":"b","x":5.6,"y":2.4},{"p":5,"g":"b","x":5.6,"y":3.2},{"p":5,"g":"b","x":5.6,"y":3.8},{"p":5,"g":"b","x":5.6,"y":4.5},{"p":5,"g":"b","x":5.6,"y":5.4},{"p":5,"g":"b","x":5.6,"y":5.6},{"p":5,"g":"b","x":5.6,"y":6.6},
{"p":5,"g":"b","x":6.6,"y":0.55},{"p":5,"g":"b","x":6.6,"y":1.1},{"p":5,"g":"b","x":6.6,"y":2.8},{"p":5,"g":"b","x":6.6,"y":3.5},{"p":5,"g":"b","x":6.6,"y":4.3},{"p":5,"g":"b","x":6.6,"y":4.8},{"p":5,"g":"b","x":6.6,"y":7.2},{"p":5,"g":"b","x":6.6,"y":8.7},{"p":5,"g":"b","x":6.6,"y":9.8},
{"p":5,"g":"b","x":7.4,"y":1.2},{"p":5,"g":"b","x":7.4,"y":2.3},{"p":5,"g":"b","x":7.4,"y":5.6},{"p":5,"g":"b","x":7.4,"y":6.5},{"p":5,"g":"b","x":7.4,"y":7.3},{"p":5,"g":"b","x":7.4,"y":8.2},{"p":5,"g":"b","x":7.4,"y":9.55},
{"p":5,"g":"b","x":8.4,"y":0.9},{"p":5,"g":"b","x":8.4,"y":1.9},{"p":5,"g":"b","x":8.4,"y":2.9},{"p":5,"g":"b","x":8.4,"y":3.9},{"p":5,"g":"b","x":8.4,"y":4.8},{"p":5,"g":"b","x":8.4,"y":5.3},{"p":5,"g":"b","x":8.4,"y":6},
{"p":5,"g":"b","x":9.4,"y":2.3},{"p":5,"g":"b","x":9.4,"y":3},{"p":5,"g":"b","x":9.4,"y":3.6},{"p":5,"g":"b","x":9.4,"y":4.7},{"p":5,"g":"b","x":9.4,"y":5.9},{"p":5,"g":"b","x":9.4,"y":6.4},
{"p":5,"g":"b","x":10.3,"y":2.4},{"p":5,"g":"b","x":10.3,"y":2.7},{"p":5,"g":"b","x":10.3,"y":3.3},{"p":5,"g":"b","x":10.3,"y":4.2},{"p":5,"g":"b","x":10.3,"y":5},{"p":5,"g":"b","x":10.3,"y":6.5},{"p":5,"g":"b","x":10.3,"y":7.8},{"p":5,"g":"b","x":10.3,"y":7.7},
{"p":5,"g":"b","x":11.3,"y":2},{"p":5,"g":"b","x":11.3,"y":3.7},{"p":5,"g":"b","x":11.3,"y":3.8},{"p":5,"g":"b","x":11.3,"y":4.6},{"p":5,"g":"b","x":11.3,"y":5.7},{"p":5,"g":"b","x":11.3,"y":7.4},{"p":5,"g":"b","x":11.3,"y":8.3},{"p":5,"g":"b","x":11.3,"y":7.5},
{"p":5,"g":"b","x":12.3,"y":1.8},{"p":5,"g":"b","x":12.3,"y":2.8},{"p":5,"g":"b","x":12.3,"y":3.4},{"p":5,"g":"b","x":12.3,"y":5},{"p":5,"g":"b","x":12.3,"y":7.1},
{"p":5,"g":"b","x":13.3,"y":2.45},{"p":5,"g":"b","x":13.3,"y":4.2},{"p":5,"g":"b","x":13.3,"y":5.9},{"p":5,"g":"b","x":13.3,"y":7.3},
{"p":5,"g":"b","x":14.3,"y":2.45},{"p":5,"g":"b","x":14.3,"y":2.95},{"p":5,"g":"b","x":14.3,"y":3.25},{"p":5,"g":"b","x":14.3,"y":4.85},{"p":5,"g":"b","x":14.3,"y":7.1},
{"p":5,"g":"b","x":12.6,"y":8.7},{"p":5,"g":"b","x":14.3,"y":9.05},{"p":5,"g":"b","x":15.2,"y":1.15},{"p":5,"g":"b","x":16.2,"y":1.75},{"p":5,"g":"b","x":15.2,"y":4.55},{"p":5,"g":"b","x":15.2,"y":5.3},{"p":5,"g":"b","x":15.2,"y":6.3},{"p":5,"g":"b","x":16.2,"y":6},{"p":5,"g":"b","x":17.2,"y":6.5},{"p":5,"g":"b","x":18.1,"y":7.25},{"p":5,"g":"b","x":20.2,"y":7.15},{"p":5,"g":"b","x":22.1,"y":6.8},{"p":5,"g":"b","x":24.3,"y":6.75},{"p":5,"g":"b","x":29.3,"y":7.1},{"p":5,"g":"b","x":37.1,"y":7.9},{"p":5,"g":"b","x":37.1,"y":7.45},{"p":5,"g":"b","x":44.1,"y":8.1},{"p":5,"g":"b","x":34.2,"y":6.6},{"p":5,"g":"b","x":34.2,"y":6},{"p":5,"g":"b","x":40,"y":6.25},{"p":5,"g":"b","x":43.2,"y":3.75},{"p":5,"g":"b","x":35.2,"y":0.95},{"p":5,"g":"b","x":27,"y":1.95},{"p":5,"g":"b","x":22.2,"y":1.45},{"p":5,"g":"b","x":20.2,"y":3.5},{"p":5,"g":"b","x":20.2,"y":4.2},{"p":5,"g":"b","x":22.2,"y":4.95},{"p":5,"g":"b","x":19.2,"y":4.8},{"p":5,"g":"b","x":25,"y":5.7},
{"p":6,"g":"a","x":-0.3,"y":0.1},{"p":6,"g":"a","x":-0.3,"y":0.7},{"p":6,"g":"a","x":-0.3,"y":1.3},{"p":6,"g":"a","x":-0.3,"y":1.9},{"p":6,"g":"a","x":-0.3,"y":2.4},{"p":6,"g":"a","x":-0.3,"y":3},{"p":6,"g":"a","x":-0.3,"y":3.5},{"p":6,"g":"a","x":-0.3,"y":4},{"p":6,"g":"a","x":-0.3,"y":4.4},{"p":6,"g":"a","x":-0.3,"y":4.9},{"p":6,"g":"a","x":-0.3,"y":5.3},{"p":6,"g":"a","x":-0.3,"y":5.6},
{"p":6,"g":"a","x":0.8,"y":0.5},{"p":6,"g":"a","x":0.8,"y":1.6},{"p":6,"g":"a","x":0.8,"y":2.6},{"p":6,"g":"a","x":0.8,"y":3.9},{"p":6,"g":"a","x":0.8,"y":4.8},{"p":6,"g":"a","x":0.8,"y":6.7},
{"p":6,"g":"a","x":1.8,"y":1},{"p":6,"g":"a","x":1.8,"y":2.4},{"p":6,"g":"a","x":1.8,"y":3.3},{"p":6,"g":"a","x":1.8,"y":4.1},{"p":6,"g":"a","x":1.8,"y":5.4},
{"p":6,"g":"a","x":2.6,"y":0.6},{"p":6,"g":"a","x":2.6,"y":2},{"p":6,"g":"a","x":2.6,"y":3.7},{"p":6,"g":"a","x":2.6,"y":6.45},{"p":6,"g":"a","x":2.6,"y":8.55},
{"p":6,"g":"a","x":3.6,"y":1.2},{"p":6,"g":"a","x":3.6,"y":2.6},{"p":6,"g":"a","x":3.6,"y":4.4},{"p":6,"g":"a","x":3.6,"y":7},
{"p":6,"g":"a","x":4.6,"y":0.65},{"p":6,"g":"a","x":4.6,"y":2},{"p":6,"g":"a","x":4.6,"y":3.7},{"p":6,"g":"a","x":4.6,"y":6.95},{"p":6,"g":"a","x":4.6,"y":8.45},
{"p":6,"g":"a","x":5.3,"y":8.4},{"p":6,"g":"a","x":5.3,"y":5.2},{"p":6,"g":"a","x":5.3,"y":2.9},
{"p":6,"g":"a","x":6.6,"y":7},{"p":6,"g":"a","x":6.6,"y":9.5},{"p":6,"g":"a","x":6.6,"y":4.7},{"p":6,"g":"a","x":6.6,"y":3},
{"p":6,"g":"a","x":7.6,"y":9.55},{"p":6,"g":"a","x":7.6,"y":7.55},{"p":6,"g":"a","x":7.6,"y":3.8},{"p":6,"g":"a","x":7.6,"y":2.2},
{"p":6,"g":"a","x":8.5,"y":6.3},{"p":6,"g":"a","x":8.5,"y":2.5},{"p":6,"g":"a","x":8.5,"y":1.5},
{"p":6,"g":"a","x":9.5,"y":6.2},{"p":6,"g":"a","x":9.5,"y":3.7},{"p":6,"g":"a","x":9.5,"y":0.95},
{"p":6,"g":"a","x":12.4,"y":7.65},{"p":6,"g":"a","x":12.4,"y":7.45},{"p":6,"g":"a","x":12.4,"y":7.05},{"p":6,"g":"a","x":13.5,"y":7.15},{"p":6,"g":"a","x":29.3,"y":6.9},{"p":6,"g":"a","x":26.3,"y":6.3},{"p":6,"g":"a","x":39.3,"y":8},{"p":6,"g":"a","x":16.8,"y":5.8},{"p":6,"g":"a","x":17.5,"y":5.6},{"p":6,"g":"a","x":19.5,"y":5.2},{"p":6,"g":"a","x":15.3,"y":5.05},{"p":6,"g":"a","x":14.3,"y":4.9},{"p":6,"g":"a","x":16.3,"y":4.55},{"p":6,"g":"a","x":14.2,"y":4.3},{"p":6,"g":"a","x":18.3,"y":4.25},{"p":6,"g":"a","x":11.3,"y":5.6},{"p":6,"g":"a","x":13.3,"y":5.55},{"p":6,"g":"a","x":44.4,"y":4.55},{"p":6,"g":"a","x":26.6,"y":2.85},{"p":6,"g":"a","x":35.2,"y":1.85},{"p":6,"g":"a","x":21.3,"y":1.5},{"p":6,"g":"a","x":17.3,"y":1.9},{"p":6,"g":"a","x":11.3,"y":1.35},{"p":6,"g":"a","x":10.2,"y":1.1},{"p":6,"g":"a","x":11.3,"y":2.3},{"p":6,"g":"a","x":10.5,"y":3.2},
{"p":6,"g":"b","x":-0.3,"y":0},{"p":6,"g":"b","x":-0.3,"y":0.15},{"p":6,"g":"b","x":-0.3,"y":0.3},{"p":6,"g":"b","x":-0.3,"y":0.45},{"p":6,"g":"b","x":-0.3,"y":0.6},{"p":6,"g":"b","x":-0.3,"y":0.8},{"p":6,"g":"b","x":-0.3,"y":1},{"p":6,"g":"b","x":-0.3,"y":1.2},{"p":6,"g":"b","x":-0.3,"y":1.4},{"p":6,"g":"b","x":-0.3,"y":1.6},{"p":6,"g":"b","x":-0.3,"y":1.8},{"p":6,"g":"b","x":-0.3,"y":2},{"p":6,"g":"b","x":-0.3,"y":2.2},{"p":6,"g":"b","x":-0.3,"y":2.5},{"p":6,"g":"b","x":-0.3,"y":2.8},{"p":6,"g":"b","x":-0.3,"y":3.1},{"p":6,"g":"b","x":-0.3,"y":3.4},{"p":6,"g":"b","x":-0.3,"y":3.7},{"p":6,"g":"b","x":-0.3,"y":4.2},{"p":6,"g":"b","x":-0.3,"y":4.6},{"p":6,"g":"b","x":-0.3,"y":5.5},{"p":6,"g":"b","x":-0.3,"y":5.7},{"p":6,"g":"b","x":-0.3,"y":6.2},
{"p":6,"g":"b","x":0.8,"y":0},{"p":6,"g":"b","x":0.8,"y":0.3},{"p":6,"g":"b","x":0.8,"y":0.6},{"p":6,"g":"b","x":0.8,"y":0.9},{"p":6,"g":"b","x":0.8,"y":1.2},{"p":6,"g":"b","x":0.8,"y":1.5},{"p":6,"g":"b","x":0.8,"y":1.8},{"p":6,"g":"b","x":0.8,"y":2.9},{"p":6,"g":"b","x":0.8,"y":3.4},{"p":6,"g":"b","x":0.8,"y":4.6},{"p":6,"g":"b","x":0.8,"y":5.2},{"p":6,"g":"b","x":0.8,"y":6.1},
{"p":6,"g":"b","x":1.6,"y":0.2},{"p":6,"g":"b","x":1.6,"y":0.5},{"p":6,"g":"b","x":1.6,"y":0.9},{"p":6,"g":"b","x":1.6,"y":1.3},{"p":6,"g":"b","x":1.6,"y":2},{"p":6,"g":"b","x":1.6,"y":2.9},{"p":6,"g":"b","x":1.6,"y":3.6},{"p":6,"g":"b","x":1.6,"y":4.4},{"p":6,"g":"b","x":1.6,"y":5.2},{"p":6,"g":"b","x":1.6,"y":5.5},{"p":6,"g":"b","x":1.6,"y":5.65},{"p":6,"g":"b","x":1.6,"y":7.2},{"p":6,"g":"b","x":1.6,"y":7.65},
{"p":6,"g":"b","x":2.6,"y":0},{"p":6,"g":"b","x":2.6,"y":0.4},{"p":6,"g":"b","x":2.6,"y":0.8},{"p":6,"g":"b","x":2.6,"y":1.3},{"p":6,"g":"b","x":2.6,"y":2.3},{"p":6,"g":"b","x":2.6,"y":3},{"p":6,"g":"b","x":2.6,"y":4.75},
{"p":6,"g":"b","x":3.6,"y":0.7},{"p":6,"g":"b","x":3.6,"y":1.55},{"p":6,"g":"b","x":3.6,"y":1.8},{"p":6,"g":"b","x":3.6,"y":3.3},{"p":6,"g":"b","x":3.6,"y":4.15},{"p":6,"g":"b","x":3.6,"y":4.85},{"p":6,"g":"b","x":3.6,"y":5.85},{"p":6,"g":"b","x":3.6,"y":6.75},
{"p":6,"g":"b","x":4.6,"y":5},{"p":6,"g":"b","x":4.6,"y":6.35},{"p":6,"g":"b","x":4.6,"y":3},
{"p":6,"g":"b","x":5.6,"y":1.2},{"p":6,"g":"b","x":5.6,"y":1.4},{"p":6,"g":"b","x":5.6,"y":2.45},{"p":6,"g":"b","x":5.6,"y":3.5},{"p":6,"g":"b","x":5.6,"y":4.6},{"p":6,"g":"b","x":5.6,"y":5.7},{"p":6,"g":"b","x":5.6,"y":6.7},
{"p":6,"g":"b","x":6.5,"y":1.55},{"p":6,"g":"b","x":6.5,"y":2.45},{"p":6,"g":"b","x":6.5,"y":5.2},{"p":6,"g":"b","x":7.4,"y":1},{"p":6,"g":"b","x":7.4,"y":2.45},{"p":6,"g":"b","x":7.4,"y":5.85},
{"p":6,"g":"b","x":8.3,"y":0.25},{"p":6,"g":"b","x":8.3,"y":0.55},{"p":6,"g":"b","x":8.3,"y":4.3},{"p":6,"g":"b","x":9.3,"y":2.3},{"p":6,"g":"b","x":9.3,"y":7.35},{"p":6,"g":"b","x":9.3,"y":3.15},
{"p":6,"g":"b","x":19.3,"y":6.65},{"p":6,"g":"b","x":24.3,"y":6.65},{"p":6,"g":"b","x":32,"y":5.9},{"p":6,"g":"b","x":21.3,"y":4.2},{"p":6,"g":"b","x":14.4,"y":3.8},{"p":6,"g":"b","x":11.3,"y":3.8},{"p":6,"g":"b","x":12.3,"y":2.55},{"p":6,"g":"b","x":23.3,"y":2.4},{"p":6,"g":"b","x":12.3,"y":1.85},{"p":6,"g":"b","x":17.3,"y":0.8},{"p":6,"g":"b","x":27.3,"y":0.35},{"p":6,"g":"b","x":12.3,"y":0},
{"p":7,"g":"a","x":-0.3,"y":0.2},{"p":7,"g":"a","x":-0.3,"y":0.8},{"p":7,"g":"a","x":-0.3,"y":1.5},{"p":7,"g":"a","x":-0.3,"y":2},{"p":7,"g":"a","x":-0.3,"y":2.7},{"p":7,"g":"a","x":-0.3,"y":3.3},{"p":7,"g":"a","x":-0.3,"y":3.8},{"p":7,"g":"a","x":-0.3,"y":4.4},{"p":7,"g":"a","x":-0.3,"y":4.9},{"p":7,"g":"a","x":-0.3,"y":5.5},{"p":7,"g":"a","x":-0.3,"y":5.8},{"p":7,"g":"a","x":-0.3,"y":6.8},{"p":7,"g":"a","x":-0.3,"y":7.95},
{"p":7,"g":"a","x":0.8,"y":0.4},{"p":7,"g":"a","x":0.8,"y":1.3},{"p":7,"g":"a","x":0.8,"y":2.6},{"p":7,"g":"a","x":0.8,"y":3.1},
{"p":7,"g":"a","x":1.6,"y":0.8},{"p":7,"g":"a","x":1.6,"y":1.9},{"p":7,"g":"a","x":1.6,"y":3.6},{"p":7,"g":"a","x":1.6,"y":4.5},
{"p":7,"g":"a","x":2.6,"y":3.5},{"p":7,"g":"a","x":2.6,"y":7.1},{"p":7,"g":"a","x":2.6,"y":1.5},
{"p":7,"g":"a","x":3.6,"y":5},{"p":7,"g":"a","x":3.6,"y":6.45},{"p":7,"g":"a","x":3.6,"y":6.55},
{"p":7,"g":"a","x":10.3,"y":6},{"p":7,"g":"a","x":10.5,"y":4.85},{"p":7,"g":"a","x":9.4,"y":4.4},{"p":7,"g":"a","x":9.4,"y":4.2},{"p":7,"g":"a","x":5.5,"y":3.6},{"p":7,"g":"a","x":15.5,"y":3.15},{"p":7,"g":"a","x":13.5,"y":3.2},{"p":7,"g":"a","x":11.5,"y":1.65},{"p":7,"g":"a","x":7.4,"y":1.3},{"p":7,"g":"a","x":5.6,"y":0.95},{"p":7,"g":"a","x":6.5,"y":0.95},{"p":7,"g":"a","x":5.6,"y":0.2},{"p":7,"g":"a","x":9.3,"y":0},{"p":7,"g":"a","x":7.5,"y":2.7},{"p":7,"g":"a","x":4.6,"y":2.55},{"p":7,"g":"a","x":7,"y":2.4},
{"p":7,"g":"b","x":-0.3,"y":0},{"p":7,"g":"b","x":-0.3,"y":0.1},{"p":7,"g":"b","x":-0.3,"y":0.3},{"p":7,"g":"b","x":-0.3,"y":0.5},{"p":7,"g":"b","x":-0.3,"y":0.7},{"p":7,"g":"b","x":-0.3,"y":0.9},{"p":7,"g":"b","x":-0.3,"y":1.1},{"p":7,"g":"b","x":-0.3,"y":1.3},{"p":7,"g":"b","x":-0.3,"y":1.5},{"p":7,"g":"b","x":-0.3,"y":1.7},{"p":7,"g":"b","x":-0.3,"y":1.9},{"p":7,"g":"b","x":-0.3,"y":2.2},{"p":7,"g":"b","x":-0.3,"y":2.5},{"p":7,"g":"b","x":-0.3,"y":2.8},{"p":7,"g":"b","x":-0.3,"y":3.1},{"p":7,"g":"b","x":-0.3,"y":3.4},{"p":7,"g":"b","x":-0.3,"y":3.7},{"p":7,"g":"b","x":-0.3,"y":4},{"p":7,"g":"b","x":-0.3,"y":4.35},{"p":7,"g":"b","x":-0.3,"y":4.9},{"p":7,"g":"b","x":-0.3,"y":5.3},{"p":7,"g":"b","x":-0.3,"y":6.2},{"p":7,"g":"b","x":-0.3,"y":6.55},
{"p":7,"g":"b","x":0.6,"y":0.15},{"p":7,"g":"b","x":0.6,"y":0.6},{"p":7,"g":"b","x":0.6,"y":1.2},{"p":7,"g":"b","x":0.6,"y":1.6},{"p":7,"g":"b","x":0.6,"y":2.25},{"p":7,"g":"b","x":0.6,"y":2.6},{"p":7,"g":"b","x":0.6,"y":3.2},{"p":7,"g":"b","x":0.6,"y":5.3},{"p":7,"g":"b","x":0.6,"y":7.45},
{"p":7,"g":"b","x":1.6,"y":0.1},{"p":7,"g":"b","x":1.6,"y":0.6},{"p":7,"g":"b","x":1.6,"y":1},{"p":7,"g":"b","x":1.6,"y":1.4},{"p":7,"g":"b","x":1.6,"y":1.6},{"p":7,"g":"b","x":1.6,"y":2.25},{"p":7,"g":"b","x":1.6,"y":2.8},{"p":7,"g":"b","x":1.6,"y":3.85},{"p":7,"g":"b","x":1.6,"y":4},{"p":7,"g":"b","x":1.6,"y":4.2},{"p":7,"g":"b","x":1.6,"y":4.7},{"p":7,"g":"b","x":1.6,"y":5.3},{"p":7,"g":"b","x":1.6,"y":5.75},
{"p":7,"g":"b","x":2.6,"y":0.05},{"p":7,"g":"b","x":2.6,"y":0.25},{"p":7,"g":"b","x":2.6,"y":1.1},{"p":7,"g":"b","x":2.6,"y":2.95},{"p":7,"g":"b","x":2.6,"y":5.55},{"p":7,"g":"b","x":2.6,"y":7.4},
{"p":7,"g":"b","x":3.5,"y":1.05},{"p":7,"g":"b","x":3.5,"y":1.9},{"p":7,"g":"b","x":3.5,"y":2.5},{"p":7,"g":"b","x":3.5,"y":3.35},{"p":7,"g":"b","x":3.5,"y":4.15},{"p":7,"g":"b","x":3.5,"y":4.45},{"p":7,"g":"b","x":3.5,"y":4.55},
{"p":7,"g":"b","x":4.4,"y":0.5},{"p":7,"g":"b","x":4.4,"y":1.05},{"p":7,"g":"b","x":4.4,"y":2.95},{"p":7,"g":"b","x":4.4,"y":4.2},{"p":7,"g":"b","x":4.4,"y":4.7},{"p":7,"g":"b","x":4.4,"y":4.9},{"p":7,"g":"b","x":4.4,"y":5.35},
{"p":7,"g":"b","x":5.6,"y":2.15},{"p":7,"g":"b","x":5.6,"y":2.8},{"p":7,"g":"b","x":5.6,"y":5.35},{"p":7,"g":"b","x":5.6,"y":5.7},{"p":7,"g":"b","x":5.6,"y":6.35},
{"p":7,"g":"b","x":6.6,"y":0.7},{"p":7,"g":"b","x":6.6,"y":2.15},{"p":7,"g":"b","x":6.6,"y":5.7},{"p":7,"g":"b","x":6.6,"y":6.4},{"p":7,"g":"b","x":8.3,"y":2.95},{"p":7,"g":"b","x":8.3,"y":5.4},
{"p":7,"g":"b","x":11.4,"y":3.85},{"p":7,"g":"b","x":12.2,"y":5.5},{"p":7,"g":"b","x":34.1,"y":6.2},{"p":7,"g":"b","x":43.2,"y":5.5},{"p":7,"g":"b","x":29.3,"y":3.35},{"p":7,"g":"b","x":23.3,"y":2.45},{"p":7,"g":"b","x":21.4,"y":1.05},{"p":7,"g":"b","x":14.2,"y":0.8},{"p":7,"g":"b","x":19.2,"y":0},
{"p":8,"g":"a","x":-0.3,"y":0.2},{"p":8,"g":"a","x":-0.3,"y":0.9},{"p":8,"g":"a","x":-0.3,"y":1.6},{"p":8,"g":"a","x":-0.3,"y":2.3},{"p":8,"g":"a","x":-0.3,"y":2.8},{"p":8,"g":"a","x":-0.3,"y":3.2},{"p":8,"g":"a","x":-0.3,"y":3.5},{"p":8,"g":"a","x":-0.3,"y":3.9},{"p":8,"g":"a","x":-0.3,"y":4.5},{"p":8,"g":"a","x":-0.3,"y":5.25},{"p":8,"g":"a","x":-0.3,"y":7.75},
{"p":8,"g":"a","x":0.8,"y":0.5},{"p":8,"g":"a","x":0.8,"y":1.5},{"p":8,"g":"a","x":0.8,"y":2.8},{"p":8,"g":"a","x":0.8,"y":4.2},
{"p":8,"g":"a","x":1.8,"y":0.7},{"p":8,"g":"a","x":1.8,"y":2.4},{"p":8,"g":"a","x":1.8,"y":3.4},{"p":8,"g":"a","x":2.6,"y":1.75},{"p":8,"g":"a","x":2.6,"y":7},
{"p":8,"g":"a","x":3.6,"y":0.2},{"p":8,"g":"a","x":3.6,"y":6.7},{"p":8,"g":"a","x":3.6,"y":6},
{"p":8,"g":"a","x":7.5,"y":4.2},{"p":8,"g":"a","x":11.5,"y":5.65},{"p":8,"g":"a","x":18.8,"y":7.25},{"p":8,"g":"a","x":18.2,"y":0.6},{"p":8,"g":"a","x":9.6,"y":0},{"p":8,"g":"a","x":6.5,"y":1.35},{"p":8,"g":"a","x":5.5,"y":0.8},{"p":8,"g":"a","x":7.5,"y":2.2},{"p":8,"g":"a","x":4.5,"y":2},
{"p":8,"g":"b","x":-0.3,"y":0},{"p":8,"g":"b","x":-0.3,"y":0.1},{"p":8,"g":"b","x":-0.3,"y":0.25},{"p":8,"g":"b","x":-0.3,"y":0.4},{"p":8,"g":"b","x":-0.3,"y":0.55},{"p":8,"g":"b","x":-0.3,"y":0.7},{"p":8,"g":"b","x":-0.3,"y":0.85},{"p":8,"g":"b","x":-0.3,"y":1},{"p":8,"g":"b","x":-0.3,"y":1.15},{"p":8,"g":"b","x":-0.3,"y":1.3},{"p":8,"g":"b","x":-0.3,"y":1.5},{"p":8,"g":"b","x":-0.3,"y":1.7},{"p":8,"g":"b","x":-0.3,"y":1.9},{"p":8,"g":"b","x":-0.3,"y":2.1},{"p":8,"g":"b","x":-0.3,"y":2.4},{"p":8,"g":"b","x":-0.3,"y":2.7},{"p":8,"g":"b","x":-0.3,"y":3},{"p":8,"g":"b","x":-0.3,"y":3.3},{"p":8,"g":"b","x":-0.3,"y":3.7},{"p":8,"g":"b","x":-0.3,"y":4.1},{"p":8,"g":"b","x":-0.3,"y":4.35},{"p":8,"g":"b","x":-0.3,"y":4.7},{"p":8,"g":"b","x":-0.3,"y":4.95},{"p":8,"g":"b","x":-0.3,"y":6.5},{"p":8,"g":"b","x":-0.3,"y":6.6},{"p":8,"g":"b","x":-0.3,"y":7.05},
{"p":8,"g":"b","x":0.6,"y":0.3},{"p":8,"g":"b","x":0.6,"y":0.8},{"p":8,"g":"b","x":0.6,"y":1.05},{"p":8,"g":"b","x":0.6,"y":1.3},{"p":8,"g":"b","x":0.6,"y":1.8},{"p":8,"g":"b","x":0.6,"y":2.45},{"p":8,"g":"b","x":0.6,"y":3.8},{"p":8,"g":"b","x":0.6,"y":4.45},{"p":8,"g":"b","x":0.6,"y":4.7},{"p":8,"g":"b","x":0.6,"y":5},
{"p":8,"g":"b","x":1.6,"y":0.1},{"p":8,"g":"b","x":1.6,"y":0.35},{"p":8,"g":"b","x":1.6,"y":1.2},{"p":8,"g":"b","x":1.6,"y":1.55},{"p":8,"g":"b","x":1.6,"y":2.5},{"p":8,"g":"b","x":1.6,"y":5.55},{"p":8,"g":"b","x":1.6,"y":5.6},{"p":8,"g":"b","x":1.6,"y":7.25},
{"p":8,"g":"b","x":2.6,"y":0.6},{"p":8,"g":"b","x":2.6,"y":0.75},{"p":8,"g":"b","x":2.6,"y":0.9},{"p":8,"g":"b","x":2.6,"y":2.55},{"p":8,"g":"b","x":2.6,"y":2.95},{"p":8,"g":"b","x":2.6,"y":3.15},{"p":8,"g":"b","x":2.6,"y":4.5},{"p":8,"g":"b","x":2.6,"y":6.2},{"p":8,"g":"b","x":2.6,"y":6.9},
{"p":8,"g":"b","x":3.6,"y":0.3},{"p":8,"g":"b","x":3.6,"y":1.25},{"p":8,"g":"b","x":3.6,"y":1.6},{"p":8,"g":"b","x":3.6,"y":2.45},{"p":8,"g":"b","x":3.6,"y":3.55},{"p":8,"g":"b","x":3.6,"y":3.75},{"p":8,"g":"b","x":3.6,"y":4.65},{"p":8,"g":"b","x":3.6,"y":4.9},
{"p":8,"g":"b","x":4.5,"y":0.8},{"p":8,"g":"b","x":4.5,"y":0.95},{"p":8,"g":"b","x":4.5,"y":1.2},{"p":8,"g":"b","x":4.5,"y":4.1},{"p":8,"g":"b","x":5.5,"y":0.3},{"p":8,"g":"b","x":5.5,"y":1.05},{"p":8,"g":"b","x":5.5,"y":3.3},{"p":8,"g":"b","x":5.5,"y":3.95},
{"p":8,"g":"b","x":6.5,"y":1.4},{"p":8,"g":"b","x":6.5,"y":2},{"p":8,"g":"b","x":7.6,"y":2.9},{"p":8,"g":"b","x":7.6,"y":4.05},{"p":8,"g":"b","x":8.6,"y":0},{"p":8,"g":"b","x":8.6,"y":3.85},
{"p":8,"g":"b","x":10.4,"y":3.65},{"p":8,"g":"b","x":13.5,"y":5.68},{"p":8,"g":"b","x":20.3,"y":5.25},{"p":8,"g":"b","x":65,"y":7.3},{"p":8,"g":"b","x":27.3,"y":1.3},{"p":8,"g":"b","x":6.7,"y":2.05}
]
},
"data":{"name":"d"},
"facet":{"field":"p","type":"ordinal","title":null,"header":{"labels":false,"title":null,"labelExpr":"''","labelFontSize":1,"labelPadding":-60,"labelColor":"transparent"}},
"columns":4,
"spacing":{"row":211.5,"column":37.5},
"bounds":"flush",
"resolve":{"axis":{"x":"independent","y":"independent"}},
"spec":{"width":272,"height":260,"layer":[
{"transform":[{"filter":"datum.g != null"}],"mark":{"type":"circle","size":24,"opacity":0.9},
"encoding":{"x":{"field":"x","type":"quantitative","scale":{"domain":[-3.8,68.5],"nice":false,"zero":false},"axis":{"title":"SJC","values":[0,10,20,30,40,50,60],"titlePadding":2,"labelOverlap":false}},
"y":{"field":"y","type":"quantitative","scale":{"domain":[-0.57,10],"nice":false,"zero":false},"axis":{"title":null,"values":[0,1,2,3,4,5,6,7,8,9,10],"labelOverlap":false,"tickCount":11}},
"color":{"field":"g","type":"nominal","scale":{"domain":["a","b"],"range":["#b0b9e3","#1c2a94"]},"legend":null}}},
{"transform":[{"filter":"datum.k=='bd'"}],"mark":{"type":"area","color":"#cfd3d3","opacity":0.7},"encoding":{"x":{"field":"x","type":"quantitative","title":null},"y":{"field":"lo","type":"quantitative","title":null},"y2":{"field":"hi"}}},
{"transform":[{"filter":"datum.k=='ln'"}],"mark":{"type":"line","color":"black","strokeWidth":3},"encoding":{"x":{"field":"x","type":"quantitative","title":null},"y":{"field":"y","type":"quantitative","title":null}}},
{"transform":[{"filter":"datum.k=='an'"}],"mark":{"type":"rule","color":"black","strokeWidth":1.5},"encoding":{"y":{"datum":1.95}}},
{"transform":[{"filter":"datum.k=='an'"}],"mark":{"type":"point","shape":"triangle-right","filled":true,"color":"black","size":45,"opacity":1},"encoding":{"x":{"datum":67.6},"y":{"datum":-0.57}}},
{"transform":[{"filter":"datum.k=='an' && datum.p==1"}],"mark":{"type":"rect","color":"#0b1b8c"},"encoding":{"x":{"datum":-5.21},"x2":{"datum":68.8},"y":{"datum":12.154},"y2":{"datum":10.935}}},
{"transform":[{"filter":"datum.k=='an' && datum.p>=2 && datum.p<=4"}],"mark":{"type":"rect","color":"#0b1b8c"},"encoding":{"x":{"datum":-13.77},"x2":{"datum":68.8},"y":{"datum":12.154},"y2":{"datum":10.935}}},
{"transform":[{"filter":"datum.k=='an' && datum.p==5"}],"mark":{"type":"rect","color":"#0b1b8c"},"encoding":{"x":{"datum":-5.21},"x2":{"datum":68.8},"y":{"datum":12.561},"y2":{"datum":11.341}}},
{"transform":[{"filter":"datum.k=='an' && datum.p>=6"}],"mark":{"type":"rect","color":"#0b1b8c"},"encoding":{"x":{"datum":-13.77},"x2":{"datum":68.8},"y":{"datum":12.561},"y2":{"datum":11.341}}},
{"transform":[{"filter":"datum.k=='an' && datum.p==3"}],"mark":{"type":"text","align":"right","baseline":"alphabetic","dx":-29.3,"fontSize":19.5,"fontWeight":"bold","color":"white"},"encoding":{"x":{"datum":-3.8},"y":{"datum":11.219},"text":{"value":"BE OPTIMAL"}}},
{"transform":[{"filter":"datum.k=='an' && datum.p==3"}],"mark":{"type":"text","align":"left","baseline":"alphabetic","dx":-24.3,"fontSize":16,"fontWeight":"bold","color":"white"},"encoding":{"x":{"datum":-3.8},"y":{"datum":11.219},"text":{"value":"(bDMARD-naïve)"}}},
{"transform":[{"filter":"datum.k=='an' && datum.p==7"}],"mark":{"type":"text","align":"right","baseline":"alphabetic","dx":4.7,"fontSize":19.5,"fontWeight":"bold","color":"white"},"encoding":{"x":{"datum":-3.8},"y":{"datum":11.626},"text":{"value":"BE COMPLETE"}}},
{"transform":[{"filter":"datum.k=='an' && datum.p==7"}],"mark":{"type":"text","align":"left","baseline":"alphabetic","dx":13.7,"fontSize":16,"fontWeight":"bold","color":"white"},"encoding":{"x":{"datum":-3.8},"y":{"datum":11.626},"text":{"value":"(TNFi-IR)"}}},
{"transform":[{"filter":"datum.k=='an' && datum.p<=4"}],"mark":{"type":"text","align":"right","baseline":"alphabetic","lineHeight":17.4,"dx":1,"fontSize":15,"color":"#555"},"encoding":{"x":{"datum":68.5},"y":{"datum":9.5},"text":{"field":"ci"}}},
{"transform":[{"filter":"datum.k=='an' && datum.p>=2 && datum.p<=4"}],"mark":{"type":"text","align":"right","baseline":"alphabetic","lineHeight":17.4,"dx":-79.9,"fontSize":15,"fontWeight":"bold","color":"#444"},"encoding":{"x":{"datum":68.5},"y":{"datum":9.5},"text":{"field":"nm"}}},
{"transform":[{"filter":"datum.k=='an' && datum.p>=2 && datum.p<=4"}],"mark":{"type":"text","align":"right","baseline":"alphabetic","lineHeight":17.4,"dx":-113.2,"fontSize":15,"color":"#555"},"encoding":{"x":{"datum":68.5},"y":{"datum":9.5},"text":{"value":["(95% CI):","(95% CI):"]}}},
{"transform":[{"filter":"datum.k=='an' && datum.p>=2 && datum.p<=4"}],"mark":{"type":"text","align":"right","baseline":"alphabetic","lineHeight":17.4,"dx":-180.8,"fontSize":15,"fontWeight":"bold","color":"#444"},"encoding":{"x":{"datum":68.5},"y":{"datum":9.5},"text":{"value":["Slope","r"]}}},
{"transform":[{"filter":"datum.k=='an' && datum.p==1"}],"mark":{"type":"text","align":"right","baseline":"alphabetic","dx":-59.0,"fontSize":15,"fontWeight":"bold","color":"#444"},"encoding":{"x":{"datum":68.5},"y":{"datum":9.5},"text":{"field":"n1"}}},
{"transform":[{"filter":"datum.k=='an' && datum.p==1"}],"mark":{"type":"text","align":"right","baseline":"alphabetic","dx":-92.3,"fontSize":15,"color":"#555"},"encoding":{"x":{"datum":68.5},"y":{"datum":9.5},"text":{"value":"(95% CI):"}}},
{"transform":[{"filter":"datum.k=='an' && datum.p==1"}],"mark":{"type":"text","align":"right","baseline":"alphabetic","dx":-159.9,"fontSize":15,"fontWeight":"bold","color":"#444"},"encoding":{"x":{"datum":68.5},"y":{"datum":9.5},"text":{"value":"Slope"}}},
{"transform":[{"filter":"datum.k=='an' && datum.p==1"}],"mark":{"type":"text","align":"right","baseline":"alphabetic","dx":-79.9,"fontSize":15,"fontWeight":"bold","color":"#444"},"encoding":{"x":{"datum":68.5},"y":{"datum":8.793},"text":{"field":"n2"}}},
{"transform":[{"filter":"datum.k=='an' && datum.p==1"}],"mark":{"type":"text","align":"right","baseline":"alphabetic","dx":-113.2,"fontSize":15,"color":"#555"},"encoding":{"x":{"datum":68.5},"y":{"datum":8.793},"text":{"value":"(95% CI):"}}},
{"transform":[{"filter":"datum.k=='an' && datum.p==1"}],"mark":{"type":"text","align":"right","baseline":"alphabetic","dx":-180.8,"fontSize":15,"fontWeight":"bold","color":"#444"},"encoding":{"x":{"datum":68.5},"y":{"datum":8.793},"text":{"value":"r"}}},
{"transform":[{"filter":"datum.k=='an' && datum.p>=5"}],"mark":{"type":"text","align":"right","baseline":"alphabetic","lineHeight":17.4,"dx":1,"fontSize":15,"color":"#555"},"encoding":{"x":{"datum":68.5},"y":{"datum":9.898},"text":{"field":"ci"}}},
{"transform":[{"filter":"datum.k=='an' && datum.p>=5"}],"mark":{"type":"text","align":"right","baseline":"alphabetic","lineHeight":17.4,"dx":-79.9,"fontSize":15,"fontWeight":"bold","color":"#444"},"encoding":{"x":{"datum":68.5},"y":{"datum":9.898},"text":{"field":"nm"}}},
{"transform":[{"filter":"datum.k=='an' && datum.p>=5"}],"mark":{"type":"text","align":"right","baseline":"alphabetic","lineHeight":17.4,"dx":-113.2,"fontSize":15,"color":"#555"},"encoding":{"x":{"datum":68.5},"y":{"datum":9.898},"text":{"value":["(95% CI):","(95% CI):"]}}},
{"transform":[{"filter":"datum.k=='an' && datum.p>=5"}],"mark":{"type":"text","align":"right","baseline":"alphabetic","lineHeight":17.4,"dx":-180.8,"fontSize":15,"fontWeight":"bold","color":"#444"},"encoding":{"x":{"datum":68.5},"y":{"datum":9.898},"text":{"value":["Slope","r"]}}},
{"transform":[{"filter":"datum.k=='tb'"}],"mark":{"type":"text","baseline":"middle","fontSize":16,"fontWeight":"bold","color":"#444"},"encoding":{"x":{"datum":32},"y":{"datum":-4.134},"text":{"field":"t"}}},
{"transform":[{"filter":"datum.k=='tb'"}],"mark":{"type":"text","baseline":"middle","fontSize":15,"color":"#555"},"encoding":{"x":{"datum":32},"y":{"datum":-4.947},"text":{"field":"a"}}},
{"transform":[{"filter":"datum.k=='tb'"}],"mark":{"type":"text","baseline":"middle","fontSize":15,"color":"#16249a"},"encoding":{"x":{"datum":32},"y":{"datum":-5.76},"text":{"field":"b"}}},
{"transform":[{"filter":"datum.k=='tb' && (datum.p==1 || datum.p==5)"}],"mark":{"type":"text","align":"left","baseline":"middle","fontSize":16,"fontWeight":"bold","color":"#444"},"encoding":{"x":{"datum":-35.25},"y":{"datum":-4.134},"text":{"value":"Number of patients (n); OC"}}},
{"transform":[{"filter":"datum.k=='tb' && (datum.p==1 || datum.p==5)"}],"mark":{"type":"text","align":"right","baseline":"middle","dx":-29,"fontSize":15,"color":"#555"},"encoding":{"x":{"datum":16.6},"y":{"datum":-4.947},"text":{"value":"PBO/"}}},
{"transform":[{"filter":"datum.k=='tb' && (datum.p==1 || datum.p==5)"}],"mark":{"type":"text","align":"right","baseline":"middle","fontSize":15,"color":"#16249a"},"encoding":{"x":{"datum":16.6},"y":{"datum":-4.947},"text":{"value":"BKZ"}}},
{"transform":[{"filter":"datum.k=='tb' && (datum.p==1 || datum.p==5)"}],"mark":{"type":"text","align":"right","baseline":"middle","fontSize":15,"color":"#16249a"},"encoding":{"x":{"datum":16.6},"y":{"datum":-5.76},"text":{"value":"BKZ"}}},
{"transform":[{"filter":"datum.k=='tb' && (datum.p==1 || datum.p==5)"}],"mark":{"type":"text","angle":270,"baseline":"middle","fontSize":16,"color":"#555"},"encoding":{"x":{"datum":-14.5},"y":{"datum":4.75},"text":{"value":"PsAID-12 total score"}}},
{"transform":[{"filter":"datum.k=='tb' && (datum.p==1 || datum.p==5)"}],"mark":{"type":"text","angle":270,"baseline":"middle","fontSize":16,"color":"#555"},"encoding":{"x":{"datum":-22.6},"y":{"datum":4.75},"text":{"value":"Improvement"}}},
{"transform":[{"filter":"datum.k=='tb' && (datum.p==1 || datum.p==5)"}],"mark":{"type":"rule","color":"black","strokeWidth":1.5},"encoding":{"x":{"datum":-18.7},"y":{"datum":10.15},"y2":{"datum":-0.45}}},
{"transform":[{"filter":"datum.k=='tb' && (datum.p==1 || datum.p==5)"}],"mark":{"type":"point","shape":"triangle-down","filled":true,"color":"black","size":45,"opacity":1},"encoding":{"x":{"datum":-18.7},"y":{"datum":-0.45}}},
{"transform":[{"filter":"datum.k=='tb' && (datum.p==1 || datum.p==5)"}],"mark":{"type":"text","baseline":"middle","fontSize":16,"color":"#555"},"encoding":{"x":{"datum":32.5},"y":{"datum":-2.71},"text":{"value":"Improvement"}}},
{"transform":[{"filter":"datum.k=='tb' && (datum.p==1 || datum.p==5)"}],"mark":{"type":"rule","color":"black","strokeWidth":1.5},"encoding":{"x":{"datum":-1.7},"x2":{"datum":67.9},"y":{"datum":-3.31}}},
{"transform":[{"filter":"datum.k=='tb' && (datum.p==1 || datum.p==5)"}],"mark":{"type":"point","shape":"triangle-left","filled":true,"color":"black","size":45,"opacity":1},"encoding":{"x":{"datum":-1.7},"y":{"datum":-3.31}}},
{"transform":[{"filter":"datum.k=='tb' && datum.p==5"}],"mark":{"type":"circle","size":340,"color":"#a9b3e2","opacity":1},"encoding":{"x":{"datum":3.83},"y":{"datum":-7.23}}},
{"transform":[{"filter":"datum.k=='tb' && datum.p==5"}],"mark":{"type":"circle","size":340,"color":"#0c1a8a","opacity":1},"encoding":{"x":{"datum":122.91},"y":{"datum":-7.23}}},
{"transform":[{"filter":"datum.k=='tb' && datum.p==5"}],"mark":{"type":"text","align":"left","baseline":"middle","fontSize":16.5,"color":"#555"},"encoding":{"x":{"datum":10.47},"y":{"datum":-7.213},"text":{"value":"PBO/"}}},
{"transform":[{"filter":"datum.k=='tb' && datum.p==5"}],"mark":{"type":"text","align":"left","baseline":"middle","dx":39.4,"fontSize":16.5,"color":"#16249a"},"encoding":{"x":{"datum":10.47},"y":{"datum":-7.213},"text":{"value":"BKZ 160 mg Q4W"}}},
{"transform":[{"filter":"datum.k=='tb' && datum.p==5"}],"mark":{"type":"text","align":"left","baseline":"middle","fontSize":16.5,"color":"#555"},"encoding":{"x":{"datum":10.47},"y":{"datum":-8.026},"text":{"value":"(BE OPTIMAL: n=281; BE COMPLETE: n=133)"}}},
{"transform":[{"filter":"datum.k=='tb' && datum.p==5"}],"mark":{"type":"text","align":"left","baseline":"middle","fontSize":16.5,"color":"#16249a"},"encoding":{"x":{"datum":128.56},"y":{"datum":-7.213},"text":{"value":"BKZ 160 mg Q4W"}}},
{"transform":[{"filter":"datum.k=='tb' && datum.p==5"}],"mark":{"type":"text","align":"left","baseline":"middle","fontSize":16.5,"color":"#16249a"},"encoding":{"x":{"datum":128.56},"y":{"datum":-8.026},"text":{"value":"(BE OPTIMAL: n=431; BE COMPLETE: n=267)"}}},
{"transform":[{"filter":"datum.k=='tb' && datum.p==5"}],"mark":{"type":"rule","color":"#555","strokeWidth":2},"encoding":{"x":{"datum":233.76},"x2":{"datum":244.4},"y":{"datum":-7.25}}},
{"transform":[{"filter":"datum.k=='tb' && datum.p==5"}],"mark":{"type":"text","align":"left","baseline":"middle","fontSize":16.5,"color":"#555"},"encoding":{"x":{"datum":247.3},"y":{"datum":-7.213},"text":{"value":"No/low symptom or disease"}}},
{"transform":[{"filter":"datum.k=='tb' && datum.p==5"}],"mark":{"type":"text","align":"left","baseline":"middle","fontSize":16.5,"color":"#555"},"encoding":{"x":{"datum":247.3},"y":{"datum":-8.026},"text":{"value":"impact (PsAID-12 total score ≤1.95)"}}}
]}
}
